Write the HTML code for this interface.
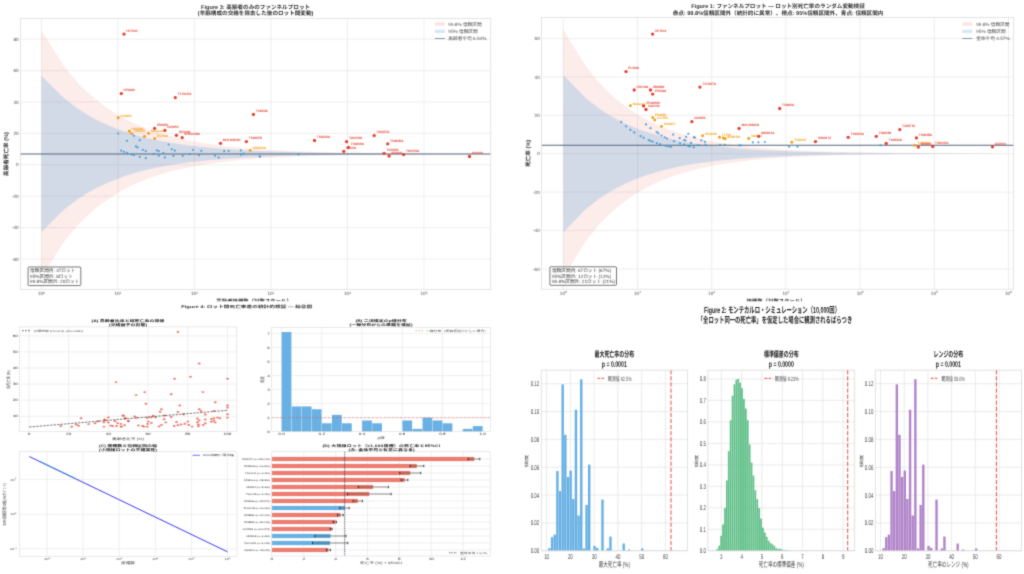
<!DOCTYPE html>
<html lang="ja"><head><meta charset="utf-8"><title>Lot mortality figures</title>
<style>
html,body{margin:0;padding:0;background:#fff;}
body{width:1024px;height:574px;overflow:hidden;}
svg{display:block;font-family:"Liberation Sans", "Noto Sans CJK JP", sans-serif;filter:url(#soft);text-rendering:geometricPrecision;}
</style></head><body>
<svg width="1024" height="574" viewBox="0 0 1024 574">
<defs><filter id="soft" x="0" y="0" width="100%" height="100%" color-interpolation-filters="sRGB"><feConvolveMatrix order="3" kernelMatrix="0.03 0.095 0.03 0.095 0.5 0.095 0.03 0.095 0.03" edgeMode="duplicate" preserveAlpha="true"/></filter></defs>
<rect width="1024" height="574" fill="#fff"/>
<rect x="20.4" y="18.4" width="470.40000000000003" height="271.3" fill="#fff"/>
<line x1="20.4" x2="490.8" y1="39.20" y2="39.20" stroke="#e6e6e6" stroke-width="0.7"/>
<line x1="20.4" x2="490.8" y1="70.60" y2="70.60" stroke="#e6e6e6" stroke-width="0.7"/>
<line x1="20.4" x2="490.8" y1="102.00" y2="102.00" stroke="#e6e6e6" stroke-width="0.7"/>
<line x1="20.4" x2="490.8" y1="133.40" y2="133.40" stroke="#e6e6e6" stroke-width="0.7"/>
<line x1="20.4" x2="490.8" y1="164.80" y2="164.80" stroke="#e6e6e6" stroke-width="0.7"/>
<line x1="20.4" x2="490.8" y1="196.20" y2="196.20" stroke="#e6e6e6" stroke-width="0.7"/>
<line x1="20.4" x2="490.8" y1="227.60" y2="227.60" stroke="#e6e6e6" stroke-width="0.7"/>
<line x1="20.4" x2="490.8" y1="259.00" y2="259.00" stroke="#e6e6e6" stroke-width="0.7"/>
<line x1="41.40" x2="41.40" y1="18.4" y2="289.7" stroke="#e6e6e6" stroke-width="0.7"/>
<line x1="117.92" x2="117.92" y1="18.4" y2="289.7" stroke="#e6e6e6" stroke-width="0.7"/>
<line x1="194.44" x2="194.44" y1="18.4" y2="289.7" stroke="#e6e6e6" stroke-width="0.7"/>
<line x1="270.96" x2="270.96" y1="18.4" y2="289.7" stroke="#e6e6e6" stroke-width="0.7"/>
<line x1="347.48" x2="347.48" y1="18.4" y2="289.7" stroke="#e6e6e6" stroke-width="0.7"/>
<line x1="424.00" x2="424.00" y1="18.4" y2="289.7" stroke="#e6e6e6" stroke-width="0.7"/>
<clipPath id="cp20"><rect x="20.4" y="18.4" width="470.40000000000003" height="271.3"/></clipPath>
<g clip-path="url(#cp20)">
<path d="M41.40,30.66 L64.43,66.76 L77.91,82.75 L87.47,92.28 L94.89,98.79 L100.94,103.59 L106.07,107.32 L110.50,110.33 L114.42,112.82 L117.92,114.93 L121.09,116.74 L123.98,118.33 L126.64,119.72 L129.10,120.97 L131.39,122.08 L133.54,123.09 L135.55,124.01 L137.45,124.86 L139.25,125.63 L140.95,126.35 L142.58,127.01 L144.12,127.63 L145.60,128.21 L147.01,128.75 L148.37,129.26 L149.67,129.73 L150.93,130.19 L152.14,130.61 L153.30,131.02 L154.43,131.40 L155.52,131.77 L156.57,132.12 L157.60,132.45 L158.59,132.77 L159.55,133.07 L160.49,133.36 L161.40,133.64 L162.29,133.91 L163.15,134.17 L163.99,134.42 L166.54,135.15 L169.09,135.86 L171.64,136.54 L174.19,137.19 L176.74,137.82 L179.29,138.42 L181.84,139.01 L184.38,139.57 L186.93,140.11 L189.48,140.63 L192.03,141.13 L194.58,141.61 L197.13,142.07 L199.68,142.51 L202.23,142.94 L204.78,143.36 L207.33,143.75 L209.88,144.13 L212.43,144.50 L214.98,144.86 L217.53,145.20 L220.08,145.52 L222.62,145.84 L225.17,146.14 L227.72,146.43 L230.27,146.72 L232.82,146.99 L235.37,147.25 L237.92,147.50 L240.47,147.74 L243.02,147.97 L245.57,148.19 L248.12,148.41 L250.67,148.62 L253.22,148.81 L255.77,149.01 L258.32,149.19 L260.87,149.37 L263.41,149.54 L265.96,149.70 L268.51,149.86 L271.06,150.01 L273.61,150.16 L276.16,150.30 L278.71,150.44 L281.26,150.57 L283.81,150.69 L286.36,150.81 L288.91,150.93 L291.46,151.04 L294.01,151.15 L296.56,151.25 L299.11,151.35 L301.65,151.45 L304.20,151.54 L306.75,151.63 L309.30,151.72 L311.85,151.80 L314.40,151.88 L316.95,151.95 L319.50,152.03 L322.05,152.10 L324.60,152.17 L327.15,152.23 L329.70,152.29 L332.25,152.35 L334.80,152.41 L337.35,152.47 L339.89,152.52 L342.44,152.57 L344.99,152.62 L347.54,152.67 L350.09,152.72 L352.64,152.76 L355.19,152.81 L357.74,152.85 L360.29,152.89 L362.84,152.93 L365.39,152.96 L367.94,153.00 L370.49,153.03 L373.04,153.07 L375.59,153.10 L378.14,153.13 L380.68,153.16 L383.23,153.18 L385.78,153.21 L388.33,153.24 L390.88,153.26 L393.43,153.29 L395.98,153.31 L398.53,153.33 L401.08,153.35 L403.63,153.37 L406.18,153.39 L408.73,153.41 L411.28,153.43 L413.83,153.45 L416.38,153.47 L418.92,153.48 L421.47,153.50 L424.02,153.51 L426.57,153.53 L429.12,153.54 L431.67,153.56 L434.22,153.57 L436.77,153.58 L439.32,153.59 L441.87,153.61 L444.42,153.62 L446.97,153.63 L449.52,153.64 L452.07,153.65 L454.62,153.66 L457.17,153.67 L459.71,153.68 L462.26,153.69 L464.81,153.69 L467.36,153.70 L469.91,153.71 L469.91,154.10 L467.36,154.11 L464.81,154.12 L462.26,154.12 L459.71,154.13 L457.17,154.14 L454.62,154.15 L452.07,154.16 L449.52,154.17 L446.97,154.18 L444.42,154.19 L441.87,154.20 L439.32,154.21 L436.77,154.23 L434.22,154.24 L431.67,154.25 L429.12,154.27 L426.57,154.28 L424.02,154.29 L421.47,154.31 L418.92,154.32 L416.38,154.34 L413.83,154.36 L411.28,154.38 L408.73,154.39 L406.18,154.41 L403.63,154.43 L401.08,154.45 L398.53,154.48 L395.98,154.50 L393.43,154.52 L390.88,154.55 L388.33,154.57 L385.78,154.60 L383.23,154.62 L380.68,154.65 L378.14,154.68 L375.59,154.71 L373.04,154.74 L370.49,154.78 L367.94,154.81 L365.39,154.85 L362.84,154.88 L360.29,154.92 L357.74,154.96 L355.19,155.00 L352.64,155.04 L350.09,155.09 L347.54,155.14 L344.99,155.18 L342.44,155.23 L339.89,155.29 L337.35,155.34 L334.80,155.40 L332.25,155.45 L329.70,155.51 L327.15,155.58 L324.60,155.64 L322.05,155.71 L319.50,155.78 L316.95,155.86 L314.40,155.93 L311.85,156.01 L309.30,156.09 L306.75,156.18 L304.20,156.27 L301.65,156.36 L299.11,156.46 L296.56,156.56 L294.01,156.66 L291.46,156.77 L288.91,156.88 L286.36,157.00 L283.81,157.12 L281.26,157.24 L278.71,157.37 L276.16,157.51 L273.61,157.65 L271.06,157.80 L268.51,157.95 L265.96,158.11 L263.41,158.27 L260.87,158.44 L258.32,158.62 L255.77,158.80 L253.22,158.99 L250.67,159.19 L248.12,159.40 L245.57,159.61 L243.02,159.84 L240.47,160.07 L237.92,160.31 L235.37,160.56 L232.82,160.82 L230.27,161.09 L227.72,161.37 L225.17,161.67 L222.62,161.97 L220.08,162.28 L217.53,162.61 L214.98,162.95 L212.43,163.31 L209.88,163.67 L207.33,164.06 L204.78,164.45 L202.23,164.87 L199.68,165.29 L197.13,165.74 L194.58,166.20 L192.03,166.68 L189.48,167.18 L186.93,167.70 L184.38,168.24 L181.84,168.80 L179.29,169.38 L176.74,169.99 L174.19,170.62 L171.64,171.27 L169.09,171.95 L166.54,172.66 L163.99,173.39 L163.15,173.64 L162.29,173.90 L161.40,174.17 L160.49,174.45 L159.55,174.74 L158.59,175.04 L157.60,175.36 L156.57,175.69 L155.52,176.04 L154.43,176.41 L153.30,176.79 L152.14,177.20 L150.93,177.62 L149.67,178.07 L148.37,178.55 L147.01,179.06 L145.60,179.60 L144.12,180.18 L142.58,180.80 L140.95,181.46 L139.25,182.18 L137.45,182.95 L135.55,183.80 L133.54,184.72 L131.39,185.73 L129.10,186.84 L126.64,188.09 L123.98,189.48 L121.09,191.06 L117.92,192.88 L114.42,194.99 L110.50,197.48 L106.07,200.49 L100.94,204.22 L94.89,209.02 L87.47,215.53 L77.91,225.06 L64.43,241.05 L41.40,277.15Z" fill="#e74c3c" fill-opacity="0.105"/>
<path d="M41.40,75.72 L64.43,98.62 L77.91,108.76 L87.47,114.81 L94.89,118.94 L100.94,121.98 L106.07,124.35 L110.50,126.26 L114.42,127.84 L117.92,129.18 L121.09,130.33 L123.98,131.33 L126.64,132.22 L129.10,133.01 L131.39,133.72 L133.54,134.36 L135.55,134.94 L137.45,135.48 L139.25,135.97 L140.95,136.42 L142.58,136.84 L144.12,137.23 L145.60,137.60 L147.01,137.94 L148.37,138.27 L149.67,138.57 L150.93,138.86 L152.14,139.13 L153.30,139.39 L154.43,139.63 L155.52,139.86 L156.57,140.08 L157.60,140.29 L158.59,140.50 L159.55,140.69 L160.49,140.87 L161.40,141.05 L162.29,141.22 L163.15,141.38 L163.99,141.54 L166.54,142.01 L169.09,142.45 L171.64,142.89 L174.19,143.30 L176.74,143.70 L179.29,144.08 L181.84,144.45 L184.38,144.81 L186.93,145.15 L189.48,145.48 L192.03,145.80 L194.58,146.10 L197.13,146.40 L199.68,146.68 L202.23,146.95 L204.78,147.21 L207.33,147.46 L209.88,147.71 L212.43,147.94 L214.98,148.16 L217.53,148.38 L220.08,148.59 L222.62,148.79 L225.17,148.98 L227.72,149.17 L230.27,149.34 L232.82,149.52 L235.37,149.68 L237.92,149.84 L240.47,149.99 L243.02,150.14 L245.57,150.28 L248.12,150.42 L250.67,150.55 L253.22,150.68 L255.77,150.80 L258.32,150.91 L260.87,151.03 L263.41,151.13 L265.96,151.24 L268.51,151.34 L271.06,151.44 L273.61,151.53 L276.16,151.62 L278.71,151.70 L281.26,151.79 L283.81,151.87 L286.36,151.94 L288.91,152.02 L291.46,152.09 L294.01,152.16 L296.56,152.22 L299.11,152.29 L301.65,152.35 L304.20,152.40 L306.75,152.46 L309.30,152.52 L311.85,152.57 L314.40,152.62 L316.95,152.67 L319.50,152.71 L322.05,152.76 L324.60,152.80 L327.15,152.84 L329.70,152.88 L332.25,152.92 L334.80,152.96 L337.35,152.99 L339.89,153.03 L342.44,153.06 L344.99,153.09 L347.54,153.12 L350.09,153.15 L352.64,153.18 L355.19,153.21 L357.74,153.23 L360.29,153.26 L362.84,153.28 L365.39,153.31 L367.94,153.33 L370.49,153.35 L373.04,153.37 L375.59,153.39 L378.14,153.41 L380.68,153.43 L383.23,153.45 L385.78,153.46 L388.33,153.48 L390.88,153.50 L393.43,153.51 L395.98,153.53 L398.53,153.54 L401.08,153.56 L403.63,153.57 L406.18,153.58 L408.73,153.59 L411.28,153.60 L413.83,153.62 L416.38,153.63 L418.92,153.64 L421.47,153.65 L424.02,153.66 L426.57,153.67 L429.12,153.68 L431.67,153.68 L434.22,153.69 L436.77,153.70 L439.32,153.71 L441.87,153.72 L444.42,153.72 L446.97,153.73 L449.52,153.74 L452.07,153.74 L454.62,153.75 L457.17,153.75 L459.71,153.76 L462.26,153.77 L464.81,153.77 L467.36,153.78 L469.91,153.78 L469.91,154.03 L467.36,154.03 L464.81,154.04 L462.26,154.04 L459.71,154.05 L457.17,154.05 L454.62,154.06 L452.07,154.07 L449.52,154.07 L446.97,154.08 L444.42,154.09 L441.87,154.09 L439.32,154.10 L436.77,154.11 L434.22,154.12 L431.67,154.12 L429.12,154.13 L426.57,154.14 L424.02,154.15 L421.47,154.16 L418.92,154.17 L416.38,154.18 L413.83,154.19 L411.28,154.20 L408.73,154.22 L406.18,154.23 L403.63,154.24 L401.08,154.25 L398.53,154.27 L395.98,154.28 L393.43,154.30 L390.88,154.31 L388.33,154.33 L385.78,154.34 L383.23,154.36 L380.68,154.38 L378.14,154.40 L375.59,154.42 L373.04,154.44 L370.49,154.46 L367.94,154.48 L365.39,154.50 L362.84,154.52 L360.29,154.55 L357.74,154.57 L355.19,154.60 L352.64,154.63 L350.09,154.66 L347.54,154.69 L344.99,154.72 L342.44,154.75 L339.89,154.78 L337.35,154.81 L334.80,154.85 L332.25,154.89 L329.70,154.93 L327.15,154.97 L324.60,155.01 L322.05,155.05 L319.50,155.10 L316.95,155.14 L314.40,155.19 L311.85,155.24 L309.30,155.29 L306.75,155.35 L304.20,155.40 L301.65,155.46 L299.11,155.52 L296.56,155.59 L294.01,155.65 L291.46,155.72 L288.91,155.79 L286.36,155.87 L283.81,155.94 L281.26,156.02 L278.71,156.10 L276.16,156.19 L273.61,156.28 L271.06,156.37 L268.51,156.47 L265.96,156.57 L263.41,156.67 L260.87,156.78 L258.32,156.89 L255.77,157.01 L253.22,157.13 L250.67,157.26 L248.12,157.39 L245.57,157.53 L243.02,157.67 L240.47,157.82 L237.92,157.97 L235.37,158.13 L232.82,158.29 L230.27,158.46 L227.72,158.64 L225.17,158.83 L222.62,159.02 L220.08,159.22 L217.53,159.43 L214.98,159.64 L212.43,159.87 L209.88,160.10 L207.33,160.34 L204.78,160.60 L202.23,160.86 L199.68,161.13 L197.13,161.41 L194.58,161.71 L192.03,162.01 L189.48,162.33 L186.93,162.66 L184.38,163.00 L181.84,163.36 L179.29,163.73 L176.74,164.11 L174.19,164.51 L171.64,164.92 L169.09,165.35 L166.54,165.80 L163.99,166.27 L163.15,166.42 L162.29,166.59 L161.40,166.76 L160.49,166.94 L159.55,167.12 L158.59,167.31 L157.60,167.51 L156.57,167.73 L155.52,167.95 L154.43,168.18 L153.30,168.42 L152.14,168.68 L150.93,168.95 L149.67,169.24 L148.37,169.54 L147.01,169.86 L145.60,170.21 L144.12,170.57 L142.58,170.97 L140.95,171.39 L139.25,171.84 L137.45,172.33 L135.55,172.87 L133.54,173.45 L131.39,174.09 L129.10,174.80 L126.64,175.59 L123.98,176.47 L121.09,177.48 L117.92,178.63 L114.42,179.97 L110.50,181.55 L106.07,183.46 L100.94,185.82 L94.89,188.87 L87.47,193.00 L77.91,199.04 L64.43,209.19 L41.40,232.09Z" fill="#3498db" fill-opacity="0.2"/>
</g>
<line x1="20.4" x2="490.8" y1="154.05" y2="154.05" stroke="#53667a" stroke-width="1.05"/>
<circle cx="118.2" cy="133.6" r="1.12" fill="#3498db" fill-opacity="0.85"/>
<circle cx="127.0" cy="140.8" r="1.12" fill="#3498db" fill-opacity="0.85"/>
<circle cx="133.9" cy="135.8" r="1.12" fill="#3498db" fill-opacity="0.85"/>
<circle cx="139.7" cy="140.2" r="1.12" fill="#3498db" fill-opacity="0.85"/>
<circle cx="135.9" cy="146.4" r="1.12" fill="#3498db" fill-opacity="0.85"/>
<circle cx="137.6" cy="147.4" r="1.12" fill="#3498db" fill-opacity="0.85"/>
<circle cx="121.2" cy="150.7" r="1.12" fill="#3498db" fill-opacity="0.85"/>
<circle cx="124.0" cy="151.8" r="1.12" fill="#3498db" fill-opacity="0.85"/>
<circle cx="127.0" cy="152.9" r="1.12" fill="#3498db" fill-opacity="0.85"/>
<circle cx="131.7" cy="154.4" r="1.12" fill="#3498db" fill-opacity="0.85"/>
<circle cx="133.9" cy="155.1" r="1.12" fill="#3498db" fill-opacity="0.85"/>
<circle cx="142.8" cy="149.9" r="1.12" fill="#3498db" fill-opacity="0.85"/>
<circle cx="145.8" cy="151.1" r="1.12" fill="#3498db" fill-opacity="0.85"/>
<circle cx="139.7" cy="156.8" r="1.12" fill="#3498db" fill-opacity="0.85"/>
<circle cx="145.8" cy="158.2" r="1.12" fill="#3498db" fill-opacity="0.85"/>
<circle cx="153.8" cy="154.1" r="1.12" fill="#3498db" fill-opacity="0.85"/>
<circle cx="156.8" cy="150.4" r="1.12" fill="#3498db" fill-opacity="0.85"/>
<circle cx="158.8" cy="151.1" r="1.12" fill="#3498db" fill-opacity="0.85"/>
<circle cx="158.8" cy="155.7" r="1.12" fill="#3498db" fill-opacity="0.85"/>
<circle cx="163.4" cy="153.0" r="1.12" fill="#3498db" fill-opacity="0.85"/>
<circle cx="164.9" cy="157.4" r="1.12" fill="#3498db" fill-opacity="0.85"/>
<circle cx="168.7" cy="144.5" r="1.12" fill="#3498db" fill-opacity="0.85"/>
<circle cx="171.7" cy="149.3" r="1.12" fill="#3498db" fill-opacity="0.85"/>
<circle cx="174.8" cy="150.7" r="1.12" fill="#3498db" fill-opacity="0.85"/>
<circle cx="173.4" cy="156.0" r="1.12" fill="#3498db" fill-opacity="0.85"/>
<circle cx="182.8" cy="155.8" r="1.12" fill="#3498db" fill-opacity="0.85"/>
<circle cx="189.7" cy="154.1" r="1.12" fill="#3498db" fill-opacity="0.85"/>
<circle cx="193.0" cy="150.0" r="1.12" fill="#3498db" fill-opacity="0.85"/>
<circle cx="199.0" cy="155.2" r="1.12" fill="#3498db" fill-opacity="0.85"/>
<circle cx="201.3" cy="150.8" r="1.12" fill="#3498db" fill-opacity="0.85"/>
<circle cx="215.0" cy="155.7" r="1.12" fill="#3498db" fill-opacity="0.85"/>
<circle cx="218.7" cy="157.6" r="1.12" fill="#3498db" fill-opacity="0.85"/>
<circle cx="224.2" cy="151.1" r="1.12" fill="#3498db" fill-opacity="0.85"/>
<circle cx="228.6" cy="151.1" r="1.12" fill="#3498db" fill-opacity="0.85"/>
<circle cx="240.9" cy="150.4" r="1.12" fill="#3498db" fill-opacity="0.85"/>
<circle cx="240.9" cy="154.7" r="1.12" fill="#3498db" fill-opacity="0.85"/>
<circle cx="243.8" cy="153.6" r="1.12" fill="#3498db" fill-opacity="0.85"/>
<circle cx="259.7" cy="156.5" r="1.12" fill="#3498db" fill-opacity="0.85"/>
<circle cx="260.0" cy="156.6" r="1.12" fill="#3498db" fill-opacity="0.85"/>
<circle cx="298.5" cy="154.3" r="1.12" fill="#3498db" fill-opacity="0.85"/>
<circle cx="118.2" cy="117.7" r="1.45" fill="#f39c12"/>
<text transform="translate(120.50,116.50)" font-size="3.2" fill="#f5a623" text-anchor="start" font-weight="normal" stroke="#f5a623" stroke-width="0.12">CJ9960</text>
<circle cx="129.3" cy="131.2" r="1.45" fill="#f39c12"/>
<text transform="translate(131.60,130.00)" font-size="3.2" fill="#f5a623" text-anchor="start" font-weight="normal" stroke="#f5a623" stroke-width="0.12">HH0929</text>
<circle cx="131.7" cy="133.6" r="1.45" fill="#f39c12"/>
<text transform="translate(134.00,132.40)" font-size="3.2" fill="#f5a623" text-anchor="start" font-weight="normal" stroke="#f5a623" stroke-width="0.12">T60054</text>
<circle cx="144.4" cy="136.5" r="1.45" fill="#f39c12"/>
<circle cx="148.6" cy="133.4" r="1.45" fill="#f39c12"/>
<text transform="translate(150.90,132.20)" font-size="3.2" fill="#f5a623" text-anchor="start" font-weight="normal" stroke="#f5a623" stroke-width="0.12">Novavax</text>
<circle cx="154.6" cy="138.6" r="1.45" fill="#f39c12"/>
<text transform="translate(156.90,137.40)" font-size="3.2" fill="#f5a623" text-anchor="start" font-weight="normal" stroke="#f5a623" stroke-width="0.12">FX7540</text>
<circle cx="250.1" cy="150.4" r="1.45" fill="#f39c12"/>
<text transform="translate(252.40,149.20)" font-size="3.2" fill="#f5a623" text-anchor="start" font-weight="normal" stroke="#f5a623" stroke-width="0.12">VPA003A</text>
<circle cx="124.0" cy="34.1" r="1.65" fill="#e53e2f"/>
<text transform="translate(126.30,31.80)" font-size="3.2" fill="#e74c3c" text-anchor="start" font-weight="normal" stroke="#e74c3c" stroke-width="0.12">HE7631</text>
<circle cx="121.3" cy="93.6" r="1.65" fill="#e53e2f"/>
<text transform="translate(123.60,91.30)" font-size="3.2" fill="#e74c3c" text-anchor="start" font-weight="normal" stroke="#e74c3c" stroke-width="0.12">HE9930</text>
<circle cx="175.3" cy="97.6" r="1.65" fill="#e53e2f"/>
<text transform="translate(177.60,95.30)" font-size="3.2" fill="#e74c3c" text-anchor="start" font-weight="normal" stroke="#e74c3c" stroke-width="0.12">T1700ITA</text>
<circle cx="154.6" cy="128.4" r="1.65" fill="#e53e2f"/>
<text transform="translate(156.90,126.10)" font-size="3.2" fill="#e74c3c" text-anchor="start" font-weight="normal" stroke="#e74c3c" stroke-width="0.12">FB0456</text>
<circle cx="164.9" cy="130.4" r="1.65" fill="#e53e2f"/>
<text transform="translate(167.20,128.10)" font-size="3.2" fill="#e74c3c" text-anchor="start" font-weight="normal" stroke="#e74c3c" stroke-width="0.12">G21852</text>
<circle cx="176.4" cy="135.3" r="1.65" fill="#e53e2f"/>
<text transform="translate(178.70,133.00)" font-size="3.2" fill="#e74c3c" text-anchor="start" font-weight="normal" stroke="#e74c3c" stroke-width="0.12">HH1228</text>
<circle cx="182.2" cy="137.6" r="1.65" fill="#e53e2f"/>
<text transform="translate(184.50,135.30)" font-size="3.2" fill="#e74c3c" text-anchor="start" font-weight="normal" stroke="#e74c3c" stroke-width="0.12">9H9433BA</text>
<circle cx="220.5" cy="143.3" r="1.65" fill="#e53e2f"/>
<text transform="translate(222.80,141.00)" font-size="3.2" fill="#e74c3c" text-anchor="start" font-weight="normal" stroke="#e74c3c" stroke-width="0.12">MOL40B001</text>
<circle cx="246.4" cy="141.6" r="1.65" fill="#e53e2f"/>
<text transform="translate(248.70,139.30)" font-size="3.2" fill="#e74c3c" text-anchor="start" font-weight="normal" stroke="#e74c3c" stroke-width="0.12">T1990EB</text>
<circle cx="253.4" cy="114.4" r="1.65" fill="#e53e2f"/>
<text transform="translate(255.70,112.10)" font-size="3.2" fill="#e74c3c" text-anchor="start" font-weight="normal" stroke="#e74c3c" stroke-width="0.12">T1993IA</text>
<circle cx="314.5" cy="140.5" r="1.65" fill="#e53e2f"/>
<text transform="translate(316.80,138.20)" font-size="3.2" fill="#e74c3c" text-anchor="start" font-weight="normal" stroke="#e74c3c" stroke-width="0.12">T1993SA</text>
<circle cx="346.6" cy="141.7" r="1.65" fill="#e53e2f"/>
<text transform="translate(348.90,139.40)" font-size="3.2" fill="#e74c3c" text-anchor="start" font-weight="normal" stroke="#e74c3c" stroke-width="0.12">T2001SA</text>
<circle cx="348.4" cy="147.5" r="1.65" fill="#e53e2f"/>
<text transform="translate(350.70,145.20)" font-size="3.2" fill="#e74c3c" text-anchor="start" font-weight="normal" stroke="#e74c3c" stroke-width="0.12">T1990SA</text>
<circle cx="343.8" cy="151.3" r="1.65" fill="#e53e2f"/>
<text transform="translate(346.10,149.00)" font-size="3.2" fill="#e74c3c" text-anchor="start" font-weight="normal" stroke="#e74c3c" stroke-width="0.12">9H02C</text>
<circle cx="374.2" cy="135.6" r="1.65" fill="#e53e2f"/>
<text transform="translate(376.50,133.30)" font-size="3.2" fill="#e74c3c" text-anchor="start" font-weight="normal" stroke="#e74c3c" stroke-width="0.12">T2005TA</text>
<circle cx="387.7" cy="143.8" r="1.65" fill="#e53e2f"/>
<text transform="translate(390.00,141.50)" font-size="3.2" fill="#e74c3c" text-anchor="start" font-weight="normal" stroke="#e74c3c" stroke-width="0.12">T1993BA</text>
<circle cx="384.1" cy="153.3" r="1.65" fill="#e53e2f"/>
<text transform="translate(386.40,151.00)" font-size="3.2" fill="#e74c3c" text-anchor="start" font-weight="normal" stroke="#e74c3c" stroke-width="0.12">T2001BL</text>
<circle cx="389.1" cy="156.0" r="1.65" fill="#e53e2f"/>
<text transform="translate(391.40,153.70)" font-size="3.2" fill="#e74c3c" text-anchor="start" font-weight="normal" stroke="#e74c3c" stroke-width="0.12">9D0801</text>
<circle cx="403.6" cy="154.6" r="1.65" fill="#e53e2f"/>
<text transform="translate(405.90,152.30)" font-size="3.2" fill="#e74c3c" text-anchor="start" font-weight="normal" stroke="#e74c3c" stroke-width="0.12">T2001SA</text>
<circle cx="469.5" cy="156.5" r="1.65" fill="#e53e2f"/>
<text transform="translate(471.80,154.20)" font-size="3.2" fill="#e74c3c" text-anchor="start" font-weight="normal" stroke="#e74c3c" stroke-width="0.12">A02223</text>
<rect x="20.4" y="18.4" width="470.40000000000003" height="271.3" fill="none" stroke="#d9d9d9" stroke-width="0.7"/>
<text transform="translate(18.60,40.80)" font-size="4.6" fill="#555" text-anchor="end" font-weight="normal" >80</text>
<text transform="translate(18.60,72.20)" font-size="4.6" fill="#555" text-anchor="end" font-weight="normal" >60</text>
<text transform="translate(18.60,103.60)" font-size="4.6" fill="#555" text-anchor="end" font-weight="normal" >40</text>
<text transform="translate(18.60,135.00)" font-size="4.6" fill="#555" text-anchor="end" font-weight="normal" >20</text>
<text transform="translate(18.60,166.40)" font-size="4.6" fill="#555" text-anchor="end" font-weight="normal" >0</text>
<text transform="translate(18.60,197.80)" font-size="4.6" fill="#555" text-anchor="end" font-weight="normal" >-20</text>
<text transform="translate(18.60,229.20)" font-size="4.6" fill="#555" text-anchor="end" font-weight="normal" >-40</text>
<text transform="translate(18.60,260.60)" font-size="4.6" fill="#555" text-anchor="end" font-weight="normal" >-60</text>
<text transform="translate(41.40,295.30)" font-size="4.6" fill="#555" text-anchor="middle">10<tspan font-size="3.22" dy="-1.75">0</tspan></text>
<text transform="translate(117.92,295.30)" font-size="4.6" fill="#555" text-anchor="middle">10<tspan font-size="3.22" dy="-1.75">1</tspan></text>
<text transform="translate(194.44,295.30)" font-size="4.6" fill="#555" text-anchor="middle">10<tspan font-size="3.22" dy="-1.75">2</tspan></text>
<text transform="translate(270.96,295.30)" font-size="4.6" fill="#555" text-anchor="middle">10<tspan font-size="3.22" dy="-1.75">3</tspan></text>
<text transform="translate(347.48,295.30)" font-size="4.6" fill="#555" text-anchor="middle">10<tspan font-size="3.22" dy="-1.75">4</tspan></text>
<text transform="translate(424.00,295.30)" font-size="4.6" fill="#555" text-anchor="middle">10<tspan font-size="3.22" dy="-1.75">5</tspan></text>
<text transform="translate(255.60,8.90)" font-size="5.6" fill="#333" text-anchor="middle" font-weight="bold" >Figure 3: 高齢者のみのファンネルプロット</text>
<text transform="translate(255.60,15.20)" font-size="5.6" fill="#333" text-anchor="middle" font-weight="bold" >(年齢構成の交絡を除去した後のロット間変動)</text>
<text transform="translate(8.40,154.05) rotate(-90)" font-size="5.6" fill="#333" text-anchor="middle" font-weight="bold" >高齢者死亡率 (%)</text>
<clipPath id="cx20"><rect x="20.4" y="290" width="470.40000000000003" height="11.2"/></clipPath>
<g clip-path="url(#cx20)">
<text transform="translate(254.10,303.10)" font-size="5.4" fill="#333" text-anchor="middle" font-weight="bold" >高齢者接種数（対数スケール）</text>
</g>
<rect x="434.9" y="22.4" width="10" height="3.3" fill="#fce5e2"/>
<rect x="434.9" y="29.7" width="10" height="3.3" fill="#d6e8f6"/>
<line x1="434.9" x2="444.9" y1="38.5" y2="38.5" stroke="#7a8a9a" stroke-width="0.9"/>
<text transform="translate(448.30,25.80)" font-size="4.7" fill="#555" text-anchor="start" font-weight="normal" >99.8% 信頼区間</text>
<text transform="translate(448.30,33.05)" font-size="4.7" fill="#555" text-anchor="start" font-weight="normal" >95% 信頼区間</text>
<text transform="translate(448.30,40.30)" font-size="4.7" fill="#555" text-anchor="start" font-weight="normal" >高齢者平均 6.94%</text>
<rect x="28.1" y="267.0" width="52.699999999999996" height="18.600000000000023" rx="1" fill="#fff" stroke="#4a4a4a" stroke-width="0.75"/>
<text transform="translate(30.10,272.40)" font-size="4.7" fill="#444" text-anchor="start" font-weight="normal" >信頼区間内: 47ロット</text>
<text transform="translate(30.10,277.85)" font-size="4.7" fill="#444" text-anchor="start" font-weight="normal" >95%区間外: 8ロット</text>
<text transform="translate(30.10,283.30)" font-size="4.7" fill="#444" text-anchor="start" font-weight="normal" >99.8%区間外: 20ロット</text>
<rect x="541.5" y="17.4" width="472.20000000000005" height="271.8" fill="#fff"/>
<line x1="541.5" x2="1013.7" y1="38.50" y2="38.50" stroke="#e6e6e6" stroke-width="0.7"/>
<line x1="541.5" x2="1013.7" y1="76.90" y2="76.90" stroke="#e6e6e6" stroke-width="0.7"/>
<line x1="541.5" x2="1013.7" y1="115.30" y2="115.30" stroke="#e6e6e6" stroke-width="0.7"/>
<line x1="541.5" x2="1013.7" y1="153.70" y2="153.70" stroke="#e6e6e6" stroke-width="0.7"/>
<line x1="541.5" x2="1013.7" y1="192.10" y2="192.10" stroke="#e6e6e6" stroke-width="0.7"/>
<line x1="541.5" x2="1013.7" y1="230.50" y2="230.50" stroke="#e6e6e6" stroke-width="0.7"/>
<line x1="541.5" x2="1013.7" y1="268.90" y2="268.90" stroke="#e6e6e6" stroke-width="0.7"/>
<line x1="563.30" x2="563.30" y1="17.4" y2="289.2" stroke="#e6e6e6" stroke-width="0.7"/>
<line x1="637.50" x2="637.50" y1="17.4" y2="289.2" stroke="#e6e6e6" stroke-width="0.7"/>
<line x1="711.70" x2="711.70" y1="17.4" y2="289.2" stroke="#e6e6e6" stroke-width="0.7"/>
<line x1="785.90" x2="785.90" y1="17.4" y2="289.2" stroke="#e6e6e6" stroke-width="0.7"/>
<line x1="860.10" x2="860.10" y1="17.4" y2="289.2" stroke="#e6e6e6" stroke-width="0.7"/>
<line x1="934.30" x2="934.30" y1="17.4" y2="289.2" stroke="#e6e6e6" stroke-width="0.7"/>
<line x1="1008.50" x2="1008.50" y1="17.4" y2="289.2" stroke="#e6e6e6" stroke-width="0.7"/>
<clipPath id="cp541"><rect x="541.5" y="17.4" width="472.20000000000005" height="271.8"/></clipPath>
<g clip-path="url(#cp541)">
<path d="M563.30,29.76 L585.64,66.04 L598.70,82.10 L607.97,91.68 L615.16,98.22 L621.04,103.05 L626.01,106.80 L630.31,109.82 L634.10,112.32 L637.50,114.44 L640.57,116.26 L643.38,117.85 L645.95,119.26 L648.34,120.51 L650.57,121.63 L652.65,122.64 L654.60,123.57 L656.44,124.41 L658.18,125.19 L659.84,125.91 L661.41,126.58 L662.91,127.20 L664.34,127.78 L665.71,128.33 L667.03,128.84 L668.29,129.32 L669.51,129.77 L670.68,130.20 L671.81,130.61 L672.90,130.99 L673.96,131.36 L674.98,131.71 L675.97,132.05 L676.94,132.37 L677.87,132.67 L678.78,132.96 L679.66,133.24 L680.52,133.51 L681.36,133.77 L682.17,134.02 L684.76,134.79 L687.35,135.53 L689.93,136.24 L692.52,136.93 L695.11,137.58 L697.69,138.21 L700.28,138.82 L702.86,139.40 L705.45,139.96 L708.04,140.50 L710.62,141.01 L713.21,141.51 L715.80,141.98 L718.38,142.44 L720.97,142.88 L723.56,143.30 L726.14,143.71 L728.73,144.10 L731.32,144.47 L733.90,144.83 L736.49,145.17 L739.07,145.51 L741.66,145.82 L744.25,146.13 L746.83,146.42 L749.42,146.71 L752.01,146.98 L754.59,147.24 L757.18,147.49 L759.77,147.73 L762.35,147.96 L764.94,148.18 L767.53,148.40 L770.11,148.60 L772.70,148.80 L775.29,148.99 L777.87,149.17 L780.46,149.34 L783.04,149.51 L785.63,149.67 L788.22,149.83 L790.80,149.97 L793.39,150.12 L795.98,150.25 L798.56,150.39 L801.15,150.51 L803.74,150.63 L806.32,150.75 L808.91,150.86 L811.50,150.97 L814.08,151.07 L816.67,151.17 L819.25,151.27 L821.84,151.36 L824.43,151.45 L827.01,151.53 L829.60,151.62 L832.19,151.69 L834.77,151.77 L837.36,151.84 L839.95,151.91 L842.53,151.98 L845.12,152.04 L847.71,152.10 L850.29,152.16 L852.88,152.22 L855.47,152.27 L858.05,152.33 L860.64,152.38 L863.22,152.42 L865.81,152.47 L868.40,152.52 L870.98,152.56 L873.57,152.60 L876.16,152.64 L878.74,152.68 L881.33,152.71 L883.92,152.75 L886.50,152.78 L889.09,152.81 L891.68,152.85 L894.26,152.88 L896.85,152.90 L899.43,152.93 L902.02,152.96 L904.61,152.98 L907.19,153.01 L909.78,153.03 L912.37,153.05 L914.95,153.08 L917.54,153.10 L920.13,153.12 L922.71,153.14 L925.30,153.15 L927.89,153.17 L930.47,153.19 L933.06,153.20 L935.65,153.22 L938.23,153.24 L940.82,153.25 L943.40,153.26 L945.99,153.28 L948.58,153.29 L951.16,153.30 L953.75,153.31 L956.34,153.33 L958.92,153.34 L961.51,153.35 L964.10,153.36 L966.68,153.37 L969.27,153.38 L971.86,153.39 L974.44,153.39 L977.03,153.40 L979.61,153.41 L982.20,153.42 L984.79,153.43 L987.37,153.43 L989.96,153.44 L992.55,153.45 L992.55,153.76 L989.96,153.77 L987.37,153.78 L984.79,153.78 L982.20,153.79 L979.61,153.80 L977.03,153.81 L974.44,153.81 L971.86,153.82 L969.27,153.83 L966.68,153.84 L964.10,153.85 L961.51,153.86 L958.92,153.87 L956.34,153.88 L953.75,153.89 L951.16,153.91 L948.58,153.92 L945.99,153.93 L943.40,153.94 L940.82,153.96 L938.23,153.97 L935.65,153.99 L933.06,154.00 L930.47,154.02 L927.89,154.04 L925.30,154.05 L922.71,154.07 L920.13,154.09 L917.54,154.11 L914.95,154.13 L912.37,154.15 L909.78,154.18 L907.19,154.20 L904.61,154.22 L902.02,154.25 L899.43,154.28 L896.85,154.30 L894.26,154.33 L891.68,154.36 L889.09,154.39 L886.50,154.43 L883.92,154.46 L881.33,154.49 L878.74,154.53 L876.16,154.57 L873.57,154.61 L870.98,154.65 L868.40,154.69 L865.81,154.74 L863.22,154.78 L860.64,154.83 L858.05,154.88 L855.47,154.93 L852.88,154.99 L850.29,155.05 L847.71,155.10 L845.12,155.17 L842.53,155.23 L839.95,155.30 L837.36,155.37 L834.77,155.44 L832.19,155.51 L829.60,155.59 L827.01,155.67 L824.43,155.76 L821.84,155.85 L819.25,155.94 L816.67,156.03 L814.08,156.13 L811.50,156.24 L808.91,156.34 L806.32,156.46 L803.74,156.57 L801.15,156.70 L798.56,156.82 L795.98,156.95 L793.39,157.09 L790.80,157.23 L788.22,157.38 L785.63,157.54 L783.04,157.70 L780.46,157.87 L777.87,158.04 L775.29,158.22 L772.70,158.41 L770.11,158.61 L767.53,158.81 L764.94,159.03 L762.35,159.25 L759.77,159.48 L757.18,159.72 L754.59,159.97 L752.01,160.23 L749.42,160.50 L746.83,160.78 L744.25,161.08 L741.66,161.38 L739.07,161.70 L736.49,162.03 L733.90,162.38 L731.32,162.74 L728.73,163.11 L726.14,163.50 L723.56,163.91 L720.97,164.33 L718.38,164.77 L715.80,165.23 L713.21,165.70 L710.62,166.20 L708.04,166.71 L705.45,167.25 L702.86,167.81 L700.28,168.39 L697.69,168.99 L695.11,169.62 L692.52,170.28 L689.93,170.96 L687.35,171.67 L684.76,172.41 L682.17,173.18 L681.36,173.43 L680.52,173.69 L679.66,173.96 L678.78,174.24 L677.87,174.54 L676.94,174.84 L675.97,175.16 L674.98,175.50 L673.96,175.85 L672.90,176.21 L671.81,176.60 L670.68,177.01 L669.51,177.44 L668.29,177.89 L667.03,178.37 L665.71,178.88 L664.34,179.43 L662.91,180.01 L661.41,180.63 L659.84,181.30 L658.18,182.01 L656.44,182.79 L654.60,183.64 L652.65,184.56 L650.57,185.58 L648.34,186.70 L645.95,187.95 L643.38,189.35 L640.57,190.94 L637.50,192.77 L634.10,194.88 L630.31,197.39 L626.01,200.41 L621.04,204.16 L615.16,208.99 L607.97,215.52 L598.70,225.10 L585.64,241.17 L563.30,277.44Z" fill="#e74c3c" fill-opacity="0.105"/>
<path d="M563.30,75.02 L585.64,98.04 L598.70,108.23 L607.97,114.31 L615.16,118.46 L621.04,121.52 L626.01,123.90 L630.31,125.82 L634.10,127.41 L637.50,128.75 L640.57,129.91 L643.38,130.92 L645.95,131.81 L648.34,132.60 L650.57,133.31 L652.65,133.96 L654.60,134.54 L656.44,135.08 L658.18,135.58 L659.84,136.03 L661.41,136.46 L662.91,136.85 L664.34,137.22 L665.71,137.56 L667.03,137.89 L668.29,138.19 L669.51,138.48 L670.68,138.75 L671.81,139.01 L672.90,139.26 L673.96,139.49 L674.98,139.71 L675.97,139.92 L676.94,140.13 L677.87,140.32 L678.78,140.51 L679.66,140.68 L680.52,140.86 L681.36,141.02 L682.17,141.18 L684.76,141.67 L687.35,142.14 L689.93,142.59 L692.52,143.02 L695.11,143.44 L697.69,143.84 L700.28,144.22 L702.86,144.59 L705.45,144.95 L708.04,145.29 L710.62,145.61 L713.21,145.93 L715.80,146.23 L718.38,146.52 L720.97,146.80 L723.56,147.07 L726.14,147.32 L728.73,147.57 L731.32,147.81 L733.90,148.04 L736.49,148.25 L739.07,148.47 L741.66,148.67 L744.25,148.86 L746.83,149.05 L749.42,149.23 L752.01,149.40 L754.59,149.56 L757.18,149.72 L759.77,149.88 L762.35,150.02 L764.94,150.16 L767.53,150.30 L770.11,150.43 L772.70,150.55 L775.29,150.67 L777.87,150.79 L780.46,150.90 L783.04,151.01 L785.63,151.11 L788.22,151.21 L790.80,151.30 L793.39,151.39 L795.98,151.48 L798.56,151.56 L801.15,151.64 L803.74,151.72 L806.32,151.79 L808.91,151.87 L811.50,151.93 L814.08,152.00 L816.67,152.06 L819.25,152.12 L821.84,152.18 L824.43,152.24 L827.01,152.29 L829.60,152.34 L832.19,152.39 L834.77,152.44 L837.36,152.49 L839.95,152.53 L842.53,152.57 L845.12,152.61 L847.71,152.65 L850.29,152.69 L852.88,152.72 L855.47,152.76 L858.05,152.79 L860.64,152.82 L863.22,152.86 L865.81,152.88 L868.40,152.91 L870.98,152.94 L873.57,152.97 L876.16,152.99 L878.74,153.02 L881.33,153.04 L883.92,153.06 L886.50,153.08 L889.09,153.10 L891.68,153.12 L894.26,153.14 L896.85,153.16 L899.43,153.18 L902.02,153.19 L904.61,153.21 L907.19,153.23 L909.78,153.24 L912.37,153.25 L914.95,153.27 L917.54,153.28 L920.13,153.29 L922.71,153.31 L925.30,153.32 L927.89,153.33 L930.47,153.34 L933.06,153.35 L935.65,153.36 L938.23,153.37 L940.82,153.38 L943.40,153.39 L945.99,153.40 L948.58,153.40 L951.16,153.41 L953.75,153.42 L956.34,153.43 L958.92,153.43 L961.51,153.44 L964.10,153.45 L966.68,153.45 L969.27,153.46 L971.86,153.47 L974.44,153.47 L977.03,153.48 L979.61,153.48 L982.20,153.49 L984.79,153.49 L987.37,153.49 L989.96,153.50 L992.55,153.50 L992.55,153.70 L989.96,153.71 L987.37,153.71 L984.79,153.72 L982.20,153.72 L979.61,153.73 L977.03,153.73 L974.44,153.74 L971.86,153.74 L969.27,153.75 L966.68,153.75 L964.10,153.76 L961.51,153.77 L958.92,153.77 L956.34,153.78 L953.75,153.79 L951.16,153.80 L948.58,153.80 L945.99,153.81 L943.40,153.82 L940.82,153.83 L938.23,153.84 L935.65,153.85 L933.06,153.86 L930.47,153.87 L927.89,153.88 L925.30,153.89 L922.71,153.90 L920.13,153.91 L917.54,153.93 L914.95,153.94 L912.37,153.95 L909.78,153.97 L907.19,153.98 L904.61,154.00 L902.02,154.01 L899.43,154.03 L896.85,154.05 L894.26,154.07 L891.68,154.09 L889.09,154.11 L886.50,154.13 L883.92,154.15 L881.33,154.17 L878.74,154.19 L876.16,154.22 L873.57,154.24 L870.98,154.27 L868.40,154.29 L865.81,154.32 L863.22,154.35 L860.64,154.38 L858.05,154.42 L855.47,154.45 L852.88,154.48 L850.29,154.52 L847.71,154.56 L845.12,154.60 L842.53,154.64 L839.95,154.68 L837.36,154.72 L834.77,154.77 L832.19,154.82 L829.60,154.87 L827.01,154.92 L824.43,154.97 L821.84,155.03 L819.25,155.09 L816.67,155.15 L814.08,155.21 L811.50,155.27 L808.91,155.34 L806.32,155.41 L803.74,155.49 L801.15,155.57 L798.56,155.65 L795.98,155.73 L793.39,155.82 L790.80,155.91 L788.22,156.00 L785.63,156.10 L783.04,156.20 L780.46,156.31 L777.87,156.42 L775.29,156.53 L772.70,156.65 L770.11,156.78 L767.53,156.91 L764.94,157.04 L762.35,157.19 L759.77,157.33 L757.18,157.48 L754.59,157.64 L752.01,157.81 L749.42,157.98 L746.83,158.16 L744.25,158.35 L741.66,158.54 L739.07,158.74 L736.49,158.95 L733.90,159.17 L731.32,159.40 L728.73,159.64 L726.14,159.88 L723.56,160.14 L720.97,160.41 L718.38,160.69 L715.80,160.98 L713.21,161.28 L710.62,161.59 L708.04,161.92 L705.45,162.26 L702.86,162.62 L700.28,162.99 L697.69,163.37 L695.11,163.77 L692.52,164.19 L689.93,164.62 L687.35,165.07 L684.76,165.54 L682.17,166.03 L681.36,166.19 L680.52,166.35 L679.66,166.52 L678.78,166.70 L677.87,166.89 L676.94,167.08 L675.97,167.28 L674.98,167.50 L673.96,167.72 L672.90,167.95 L671.81,168.20 L670.68,168.46 L669.51,168.73 L668.29,169.02 L667.03,169.32 L665.71,169.65 L664.34,169.99 L662.91,170.36 L661.41,170.75 L659.84,171.18 L658.18,171.63 L656.44,172.13 L654.60,172.66 L652.65,173.25 L650.57,173.89 L648.34,174.61 L645.95,175.40 L643.38,176.29 L640.57,177.30 L637.50,178.45 L634.10,179.80 L630.31,181.39 L626.01,183.31 L621.04,185.69 L615.16,188.75 L607.97,192.90 L598.70,198.98 L585.64,209.17 L563.30,232.19Z" fill="#3498db" fill-opacity="0.2"/>
</g>
<line x1="541.5" x2="1013.7" y1="145.19" y2="145.19" stroke="#53667a" stroke-width="1.05"/>
<circle cx="621.2" cy="121.9" r="1.12" fill="#3498db" fill-opacity="0.85"/>
<circle cx="626.0" cy="126.3" r="1.12" fill="#3498db" fill-opacity="0.85"/>
<circle cx="630.4" cy="129.9" r="1.12" fill="#3498db" fill-opacity="0.85"/>
<circle cx="634.2" cy="132.4" r="1.12" fill="#3498db" fill-opacity="0.85"/>
<circle cx="640.6" cy="136.2" r="1.12" fill="#3498db" fill-opacity="0.85"/>
<circle cx="643.6" cy="137.9" r="1.12" fill="#3498db" fill-opacity="0.85"/>
<circle cx="646.0" cy="124.4" r="1.12" fill="#3498db" fill-opacity="0.85"/>
<circle cx="648.6" cy="140.1" r="1.12" fill="#3498db" fill-opacity="0.85"/>
<circle cx="650.5" cy="140.9" r="1.12" fill="#3498db" fill-opacity="0.85"/>
<circle cx="650.5" cy="128.2" r="1.12" fill="#3498db" fill-opacity="0.85"/>
<circle cx="652.7" cy="141.6" r="1.12" fill="#3498db" fill-opacity="0.85"/>
<circle cx="656.8" cy="143.2" r="1.12" fill="#3498db" fill-opacity="0.85"/>
<circle cx="656.8" cy="132.2" r="1.12" fill="#3498db" fill-opacity="0.85"/>
<circle cx="658.4" cy="133.6" r="1.12" fill="#3498db" fill-opacity="0.85"/>
<circle cx="660.1" cy="144.2" r="1.12" fill="#3498db" fill-opacity="0.85"/>
<circle cx="661.5" cy="135.5" r="1.12" fill="#3498db" fill-opacity="0.85"/>
<circle cx="664.8" cy="137.3" r="1.12" fill="#3498db" fill-opacity="0.85"/>
<circle cx="667.1" cy="138.5" r="1.12" fill="#3498db" fill-opacity="0.85"/>
<circle cx="665.9" cy="145.9" r="1.12" fill="#3498db" fill-opacity="0.85"/>
<circle cx="668.5" cy="146.5" r="1.12" fill="#3498db" fill-opacity="0.85"/>
<circle cx="670.9" cy="147.0" r="1.12" fill="#3498db" fill-opacity="0.85"/>
<circle cx="673.1" cy="134.6" r="1.12" fill="#3498db" fill-opacity="0.85"/>
<circle cx="674.0" cy="141.2" r="1.12" fill="#3498db" fill-opacity="0.85"/>
<circle cx="679.7" cy="138.2" r="1.12" fill="#3498db" fill-opacity="0.85"/>
<circle cx="680.0" cy="143.4" r="1.12" fill="#3498db" fill-opacity="0.85"/>
<circle cx="684.1" cy="140.1" r="1.12" fill="#3498db" fill-opacity="0.85"/>
<circle cx="685.5" cy="140.5" r="1.12" fill="#3498db" fill-opacity="0.85"/>
<circle cx="684.1" cy="144.5" r="1.12" fill="#3498db" fill-opacity="0.85"/>
<circle cx="686.1" cy="136.8" r="1.12" fill="#3498db" fill-opacity="0.85"/>
<circle cx="688.3" cy="133.8" r="1.12" fill="#3498db" fill-opacity="0.85"/>
<circle cx="688.3" cy="145.9" r="1.12" fill="#3498db" fill-opacity="0.85"/>
<circle cx="689.7" cy="146.4" r="1.12" fill="#3498db" fill-opacity="0.85"/>
<circle cx="691.0" cy="142.9" r="1.12" fill="#3498db" fill-opacity="0.85"/>
<circle cx="693.8" cy="147.3" r="1.12" fill="#3498db" fill-opacity="0.85"/>
<circle cx="693.8" cy="137.1" r="1.12" fill="#3498db" fill-opacity="0.85"/>
<circle cx="694.9" cy="137.7" r="1.12" fill="#3498db" fill-opacity="0.85"/>
<circle cx="698.5" cy="145.1" r="1.12" fill="#3498db" fill-opacity="0.85"/>
<circle cx="701.3" cy="140.4" r="1.12" fill="#3498db" fill-opacity="0.85"/>
<circle cx="704.8" cy="141.8" r="1.12" fill="#3498db" fill-opacity="0.85"/>
<circle cx="705.6" cy="144.5" r="1.12" fill="#3498db" fill-opacity="0.85"/>
<circle cx="720.0" cy="144.8" r="1.12" fill="#3498db" fill-opacity="0.85"/>
<circle cx="724.7" cy="144.8" r="1.12" fill="#3498db" fill-opacity="0.85"/>
<circle cx="739.3" cy="145.3" r="1.12" fill="#3498db" fill-opacity="0.85"/>
<circle cx="740.9" cy="145.3" r="1.12" fill="#3498db" fill-opacity="0.85"/>
<circle cx="752.9" cy="142.4" r="1.12" fill="#3498db" fill-opacity="0.85"/>
<circle cx="758.4" cy="142.3" r="1.12" fill="#3498db" fill-opacity="0.85"/>
<circle cx="764.8" cy="142.0" r="1.12" fill="#3498db" fill-opacity="0.85"/>
<circle cx="789.1" cy="146.7" r="1.12" fill="#3498db" fill-opacity="0.85"/>
<circle cx="797.4" cy="146.7" r="1.12" fill="#3498db" fill-opacity="0.85"/>
<circle cx="880.4" cy="145.1" r="1.12" fill="#3498db" fill-opacity="0.85"/>
<circle cx="630.4" cy="105.7" r="1.45" fill="#f39c12"/>
<text transform="translate(632.70,104.50)" font-size="3.2" fill="#f5a623" text-anchor="start" font-weight="normal" stroke="#f5a623" stroke-width="0.12">Novavax</text>
<circle cx="652.7" cy="117.6" r="1.45" fill="#f39c12"/>
<text transform="translate(655.00,116.40)" font-size="3.2" fill="#f5a623" text-anchor="start" font-weight="normal" stroke="#f5a623" stroke-width="0.12">FH0956</text>
<circle cx="654.7" cy="120.0" r="1.45" fill="#f39c12"/>
<text transform="translate(657.00,118.80)" font-size="3.2" fill="#f5a623" text-anchor="start" font-weight="normal" stroke="#f5a623" stroke-width="0.12">CJ7554</text>
<circle cx="661.5" cy="126.4" r="1.45" fill="#f39c12"/>
<text transform="translate(663.80,125.20)" font-size="3.2" fill="#f5a623" text-anchor="start" font-weight="normal" stroke="#f5a623" stroke-width="0.12">HH9917</text>
<circle cx="702.6" cy="135.8" r="1.45" fill="#f39c12"/>
<text transform="translate(704.90,134.60)" font-size="3.2" fill="#f5a623" text-anchor="start" font-weight="normal" stroke="#f5a623" stroke-width="0.12">HG3036</text>
<circle cx="719.5" cy="137.3" r="1.45" fill="#f39c12"/>
<text transform="translate(721.80,136.10)" font-size="3.2" fill="#f5a623" text-anchor="start" font-weight="normal" stroke="#f5a623" stroke-width="0.12">T1790</text>
<circle cx="723.3" cy="138.0" r="1.45" fill="#f39c12"/>
<circle cx="725.2" cy="138.8" r="1.45" fill="#f39c12"/>
<text transform="translate(727.50,137.60)" font-size="3.2" fill="#f5a623" text-anchor="start" font-weight="normal" stroke="#f5a623" stroke-width="0.12">9H9B1M</text>
<circle cx="748.7" cy="138.5" r="1.45" fill="#f39c12"/>
<text transform="translate(751.00,137.30)" font-size="3.2" fill="#f5a623" text-anchor="start" font-weight="normal" stroke="#f5a623" stroke-width="0.12">3C9481</text>
<circle cx="791.8" cy="142.3" r="1.45" fill="#f39c12"/>
<text transform="translate(794.10,141.10)" font-size="3.2" fill="#f5a623" text-anchor="start" font-weight="normal" stroke="#f5a623" stroke-width="0.12">T1991IX</text>
<circle cx="915.0" cy="145.4" r="1.45" fill="#f39c12"/>
<text transform="translate(917.30,144.20)" font-size="3.2" fill="#f5a623" text-anchor="start" font-weight="normal" stroke="#f5a623" stroke-width="0.12">T1990ML</text>
<circle cx="652.6" cy="34.1" r="1.65" fill="#e53e2f"/>
<text transform="translate(654.90,31.80)" font-size="3.2" fill="#e74c3c" text-anchor="start" font-weight="normal" stroke="#e74c3c" stroke-width="0.12">HE7631</text>
<circle cx="626.0" cy="71.6" r="1.65" fill="#e53e2f"/>
<text transform="translate(628.30,69.30)" font-size="3.2" fill="#e74c3c" text-anchor="start" font-weight="normal" stroke="#e74c3c" stroke-width="0.12">FL3199</text>
<circle cx="634.2" cy="90.0" r="1.65" fill="#e53e2f"/>
<text transform="translate(636.50,87.70)" font-size="3.2" fill="#e74c3c" text-anchor="start" font-weight="normal" stroke="#e74c3c" stroke-width="0.12">HH1299</text>
<circle cx="650.5" cy="90.0" r="1.65" fill="#e53e2f"/>
<text transform="translate(652.80,87.70)" font-size="3.2" fill="#e74c3c" text-anchor="start" font-weight="normal" stroke="#e74c3c" stroke-width="0.12">HB9868</text>
<circle cx="652.7" cy="94.1" r="1.65" fill="#e53e2f"/>
<text transform="translate(655.00,91.80)" font-size="3.2" fill="#e74c3c" text-anchor="start" font-weight="normal" stroke="#e74c3c" stroke-width="0.12">FH0384</text>
<circle cx="699.9" cy="87.1" r="1.65" fill="#e53e2f"/>
<text transform="translate(702.20,84.80)" font-size="3.2" fill="#e74c3c" text-anchor="start" font-weight="normal" stroke="#e74c3c" stroke-width="0.12">T1700ITA</text>
<circle cx="643.6" cy="105.9" r="1.65" fill="#e53e2f"/>
<text transform="translate(645.90,103.60)" font-size="3.2" fill="#e74c3c" text-anchor="start" font-weight="normal" stroke="#e74c3c" stroke-width="0.12">ZE0916M</text>
<circle cx="646.0" cy="109.5" r="1.65" fill="#e53e2f"/>
<text transform="translate(648.30,107.20)" font-size="3.2" fill="#e74c3c" text-anchor="start" font-weight="normal" stroke="#e74c3c" stroke-width="0.12">GJ0136</text>
<circle cx="691.9" cy="121.7" r="1.65" fill="#e53e2f"/>
<text transform="translate(694.20,119.40)" font-size="3.2" fill="#e74c3c" text-anchor="start" font-weight="normal" stroke="#e74c3c" stroke-width="0.12">G21852</text>
<circle cx="739.1" cy="128.5" r="1.65" fill="#e53e2f"/>
<text transform="translate(741.40,126.20)" font-size="3.2" fill="#e74c3c" text-anchor="start" font-weight="normal" stroke="#e74c3c" stroke-width="0.12">MOL40B001</text>
<circle cx="758.7" cy="136.3" r="1.65" fill="#e53e2f"/>
<text transform="translate(761.00,134.00)" font-size="3.2" fill="#e74c3c" text-anchor="start" font-weight="normal" stroke="#e74c3c" stroke-width="0.12">9D0931A</text>
<circle cx="779.7" cy="108.5" r="1.65" fill="#e53e2f"/>
<text transform="translate(782.00,106.20)" font-size="3.2" fill="#e74c3c" text-anchor="start" font-weight="normal" stroke="#e74c3c" stroke-width="0.12">T1990IA</text>
<circle cx="815.5" cy="141.6" r="1.65" fill="#e53e2f"/>
<text transform="translate(817.80,139.30)" font-size="3.2" fill="#e74c3c" text-anchor="start" font-weight="normal" stroke="#e74c3c" stroke-width="0.12">VPA6174</text>
<circle cx="848.2" cy="137.3" r="1.65" fill="#e53e2f"/>
<text transform="translate(850.50,135.00)" font-size="3.2" fill="#e74c3c" text-anchor="start" font-weight="normal" stroke="#e74c3c" stroke-width="0.12">T1993SA</text>
<circle cx="876.3" cy="136.3" r="1.65" fill="#e53e2f"/>
<text transform="translate(878.60,134.00)" font-size="3.2" fill="#e74c3c" text-anchor="start" font-weight="normal" stroke="#e74c3c" stroke-width="0.12">T1993IM</text>
<circle cx="886.2" cy="143.4" r="1.65" fill="#e53e2f"/>
<text transform="translate(888.50,141.10)" font-size="3.2" fill="#e74c3c" text-anchor="start" font-weight="normal" stroke="#e74c3c" stroke-width="0.12">T1990SA</text>
<circle cx="899.8" cy="129.6" r="1.65" fill="#e53e2f"/>
<text transform="translate(902.10,127.30)" font-size="3.2" fill="#e74c3c" text-anchor="start" font-weight="normal" stroke="#e74c3c" stroke-width="0.12">T2005TA</text>
<circle cx="916.4" cy="137.9" r="1.65" fill="#e53e2f"/>
<text transform="translate(918.70,135.60)" font-size="3.2" fill="#e74c3c" text-anchor="start" font-weight="normal" stroke="#e74c3c" stroke-width="0.12">T1993BA</text>
<circle cx="918.4" cy="147.1" r="1.65" fill="#e53e2f"/>
<text transform="translate(920.70,144.80)" font-size="3.2" fill="#e74c3c" text-anchor="start" font-weight="normal" stroke="#e74c3c" stroke-width="0.12">9D0801</text>
<circle cx="932.7" cy="146.5" r="1.65" fill="#e53e2f"/>
<text transform="translate(935.00,144.20)" font-size="3.2" fill="#e74c3c" text-anchor="start" font-weight="normal" stroke="#e74c3c" stroke-width="0.12">T2001SA</text>
<circle cx="992.5" cy="146.8" r="1.65" fill="#e53e2f"/>
<text transform="translate(994.80,144.50)" font-size="3.2" fill="#e74c3c" text-anchor="start" font-weight="normal" stroke="#e74c3c" stroke-width="0.12">A02223</text>
<rect x="541.5" y="17.4" width="472.20000000000005" height="271.8" fill="none" stroke="#d9d9d9" stroke-width="0.7"/>
<text transform="translate(539.70,40.10)" font-size="4.6" fill="#555" text-anchor="end" font-weight="normal" >60</text>
<text transform="translate(539.70,78.50)" font-size="4.6" fill="#555" text-anchor="end" font-weight="normal" >40</text>
<text transform="translate(539.70,116.90)" font-size="4.6" fill="#555" text-anchor="end" font-weight="normal" >20</text>
<text transform="translate(539.70,155.30)" font-size="4.6" fill="#555" text-anchor="end" font-weight="normal" >0</text>
<text transform="translate(539.70,193.70)" font-size="4.6" fill="#555" text-anchor="end" font-weight="normal" >-20</text>
<text transform="translate(539.70,232.10)" font-size="4.6" fill="#555" text-anchor="end" font-weight="normal" >-40</text>
<text transform="translate(539.70,270.50)" font-size="4.6" fill="#555" text-anchor="end" font-weight="normal" >-60</text>
<text transform="translate(563.30,294.80)" font-size="4.6" fill="#555" text-anchor="middle">10<tspan font-size="3.22" dy="-1.75">0</tspan></text>
<text transform="translate(637.50,294.80)" font-size="4.6" fill="#555" text-anchor="middle">10<tspan font-size="3.22" dy="-1.75">1</tspan></text>
<text transform="translate(711.70,294.80)" font-size="4.6" fill="#555" text-anchor="middle">10<tspan font-size="3.22" dy="-1.75">2</tspan></text>
<text transform="translate(785.90,294.80)" font-size="4.6" fill="#555" text-anchor="middle">10<tspan font-size="3.22" dy="-1.75">3</tspan></text>
<text transform="translate(860.10,294.80)" font-size="4.6" fill="#555" text-anchor="middle">10<tspan font-size="3.22" dy="-1.75">4</tspan></text>
<text transform="translate(934.30,294.80)" font-size="4.6" fill="#555" text-anchor="middle">10<tspan font-size="3.22" dy="-1.75">5</tspan></text>
<text transform="translate(1008.50,294.80)" font-size="4.6" fill="#555" text-anchor="middle">10<tspan font-size="3.22" dy="-1.75">6</tspan></text>
<text transform="translate(778.00,7.70)" font-size="5.6" fill="#333" text-anchor="middle" font-weight="bold" >Figure 1: ファンネルプロット — ロット別死亡率のランダム変動検証</text>
<text transform="translate(778.00,14.90)" font-size="5.6" fill="#333" text-anchor="middle" font-weight="bold" >赤点: 99.8%信頼区間外（統計的に異常）、橙点: 95%信頼区間外、青点: 信頼区間内</text>
<text transform="translate(530.00,153.30) rotate(-90)" font-size="5.6" fill="#333" text-anchor="middle" font-weight="bold" >死亡率 (%)</text>
<clipPath id="cx541"><rect x="541.5" y="290" width="472.20000000000005" height="11.2"/></clipPath>
<g clip-path="url(#cx541)">
<text transform="translate(776.10,303.10)" font-size="5.4" fill="#333" text-anchor="middle" font-weight="bold" >接種数（対数スケール）</text>
</g>
<rect x="962.3" y="22.4" width="10" height="3.3" fill="#fce5e2"/>
<rect x="962.3" y="29.7" width="10" height="3.3" fill="#d6e8f6"/>
<line x1="962.3" x2="972.3" y1="38.5" y2="38.5" stroke="#7a8a9a" stroke-width="0.9"/>
<text transform="translate(976.20,25.80)" font-size="4.7" fill="#555" text-anchor="start" font-weight="normal" >99.8% 信頼区間</text>
<text transform="translate(976.20,33.05)" font-size="4.7" fill="#555" text-anchor="start" font-weight="normal" >95% 信頼区間</text>
<text transform="translate(976.20,40.30)" font-size="4.7" fill="#555" text-anchor="start" font-weight="normal" >全体平均 4.57%</text>
<rect x="549.9" y="266.8" width="66.60000000000002" height="18.5" rx="1" fill="#fff" stroke="#4a4a4a" stroke-width="0.75"/>
<text transform="translate(551.90,272.20)" font-size="4.7" fill="#444" text-anchor="start" font-weight="normal" >信頼区間内: 67ロット (67%)</text>
<text transform="translate(551.90,277.65)" font-size="4.7" fill="#444" text-anchor="start" font-weight="normal" >95%区間外: 12ロット (12%)</text>
<text transform="translate(551.90,283.10)" font-size="4.7" fill="#444" text-anchor="start" font-weight="normal" >99.8%区間外: 21ロット (21%)</text>
<text transform="translate(246.70,307.50) scale(1.42,1)" font-size="4.0" fill="#333" text-anchor="middle" font-weight="bold" >Figure 4: ロット間死亡率差の統計的検証 — 総合図</text>
<rect x="19.4" y="326.9" width="217.29999999999998" height="104.60000000000002" fill="#fff"/>
<line x1="29.00" x2="29.00" y1="326.9" y2="431.5" stroke="#dedede" stroke-width="0.45"/>
<line x1="68.70" x2="68.70" y1="326.9" y2="431.5" stroke="#dedede" stroke-width="0.45"/>
<line x1="108.40" x2="108.40" y1="326.9" y2="431.5" stroke="#dedede" stroke-width="0.45"/>
<line x1="148.10" x2="148.10" y1="326.9" y2="431.5" stroke="#dedede" stroke-width="0.45"/>
<line x1="187.80" x2="187.80" y1="326.9" y2="431.5" stroke="#dedede" stroke-width="0.45"/>
<line x1="227.50" x2="227.50" y1="326.9" y2="431.5" stroke="#dedede" stroke-width="0.45"/>
<line x1="19.4" x2="236.7" y1="416.30" y2="416.30" stroke="#dedede" stroke-width="0.45"/>
<line x1="19.4" x2="236.7" y1="400.20" y2="400.20" stroke="#dedede" stroke-width="0.45"/>
<line x1="19.4" x2="236.7" y1="384.10" y2="384.10" stroke="#dedede" stroke-width="0.45"/>
<line x1="19.4" x2="236.7" y1="368.00" y2="368.00" stroke="#dedede" stroke-width="0.45"/>
<line x1="19.4" x2="236.7" y1="351.90" y2="351.90" stroke="#dedede" stroke-width="0.45"/>
<line x1="19.4" x2="236.7" y1="335.80" y2="335.80" stroke="#dedede" stroke-width="0.45"/>
<ellipse cx="60.8" cy="426.0" rx="1.45" ry="0.95" fill="#e74c3c" fill-opacity="0.75"/>
<ellipse cx="71.7" cy="426.8" rx="1.45" ry="0.95" fill="#e74c3c" fill-opacity="0.75"/>
<ellipse cx="76.3" cy="424.5" rx="1.45" ry="0.95" fill="#e74c3c" fill-opacity="0.75"/>
<ellipse cx="78.6" cy="425.8" rx="1.45" ry="0.95" fill="#e74c3c" fill-opacity="0.75"/>
<ellipse cx="81.1" cy="418.3" rx="1.45" ry="0.95" fill="#e74c3c" fill-opacity="0.75"/>
<ellipse cx="88.6" cy="424.1" rx="1.45" ry="0.95" fill="#e74c3c" fill-opacity="0.75"/>
<ellipse cx="95.1" cy="423.3" rx="1.45" ry="0.95" fill="#e74c3c" fill-opacity="0.75"/>
<ellipse cx="98.2" cy="421.2" rx="1.45" ry="0.95" fill="#e74c3c" fill-opacity="0.75"/>
<ellipse cx="103.9" cy="422.2" rx="1.45" ry="0.95" fill="#e74c3c" fill-opacity="0.75"/>
<ellipse cx="103.9" cy="426.6" rx="1.45" ry="0.95" fill="#e74c3c" fill-opacity="0.75"/>
<ellipse cx="104.5" cy="419.5" rx="1.45" ry="0.95" fill="#e74c3c" fill-opacity="0.75"/>
<ellipse cx="105.5" cy="420.1" rx="1.45" ry="0.95" fill="#e74c3c" fill-opacity="0.75"/>
<ellipse cx="108.3" cy="417.4" rx="1.45" ry="0.95" fill="#e74c3c" fill-opacity="0.75"/>
<ellipse cx="108.3" cy="422.4" rx="1.45" ry="0.95" fill="#e74c3c" fill-opacity="0.75"/>
<ellipse cx="110.6" cy="425.6" rx="1.45" ry="0.95" fill="#e74c3c" fill-opacity="0.75"/>
<ellipse cx="112.7" cy="426.0" rx="1.45" ry="0.95" fill="#e74c3c" fill-opacity="0.75"/>
<ellipse cx="115.0" cy="421.2" rx="1.45" ry="0.95" fill="#e74c3c" fill-opacity="0.75"/>
<ellipse cx="116.0" cy="382.1" rx="1.45" ry="0.95" fill="#e74c3c" fill-opacity="0.75"/>
<ellipse cx="116.6" cy="426.0" rx="1.45" ry="0.95" fill="#e74c3c" fill-opacity="0.75"/>
<ellipse cx="117.7" cy="423.3" rx="1.45" ry="0.95" fill="#e74c3c" fill-opacity="0.75"/>
<ellipse cx="121.0" cy="423.9" rx="1.45" ry="0.95" fill="#e74c3c" fill-opacity="0.75"/>
<ellipse cx="121.4" cy="426.6" rx="1.45" ry="0.95" fill="#e74c3c" fill-opacity="0.75"/>
<ellipse cx="123.3" cy="415.8" rx="1.45" ry="0.95" fill="#e74c3c" fill-opacity="0.75"/>
<ellipse cx="124.6" cy="425.2" rx="1.45" ry="0.95" fill="#e74c3c" fill-opacity="0.75"/>
<ellipse cx="125.4" cy="418.3" rx="1.45" ry="0.95" fill="#e74c3c" fill-opacity="0.75"/>
<ellipse cx="128.3" cy="421.2" rx="1.45" ry="0.95" fill="#e74c3c" fill-opacity="0.75"/>
<ellipse cx="177.9" cy="331.9" rx="1.45" ry="0.95" fill="#e74c3c" fill-opacity="0.75"/>
<ellipse cx="199.2" cy="363.5" rx="1.45" ry="0.95" fill="#e74c3c" fill-opacity="0.75"/>
<ellipse cx="190.5" cy="376.7" rx="1.45" ry="0.95" fill="#e74c3c" fill-opacity="0.75"/>
<ellipse cx="174.6" cy="378.7" rx="1.45" ry="0.95" fill="#e74c3c" fill-opacity="0.75"/>
<ellipse cx="227.5" cy="378.7" rx="1.45" ry="0.95" fill="#e74c3c" fill-opacity="0.75"/>
<ellipse cx="136.1" cy="395.1" rx="1.45" ry="0.95" fill="#e74c3c" fill-opacity="0.75"/>
<ellipse cx="144.7" cy="392.1" rx="1.45" ry="0.95" fill="#e74c3c" fill-opacity="0.75"/>
<ellipse cx="171.2" cy="394.2" rx="1.45" ry="0.95" fill="#e74c3c" fill-opacity="0.75"/>
<ellipse cx="202.8" cy="392.1" rx="1.45" ry="0.95" fill="#e74c3c" fill-opacity="0.75"/>
<ellipse cx="145.9" cy="403.8" rx="1.45" ry="0.95" fill="#e74c3c" fill-opacity="0.75"/>
<ellipse cx="215.3" cy="402.2" rx="1.45" ry="0.95" fill="#e74c3c" fill-opacity="0.75"/>
<ellipse cx="179.8" cy="405.5" rx="1.45" ry="0.95" fill="#e74c3c" fill-opacity="0.75"/>
<ellipse cx="227.5" cy="405.5" rx="1.45" ry="0.95" fill="#e74c3c" fill-opacity="0.75"/>
<ellipse cx="227.5" cy="407.6" rx="1.45" ry="0.95" fill="#e74c3c" fill-opacity="0.75"/>
<ellipse cx="161.4" cy="409.3" rx="1.45" ry="0.95" fill="#e74c3c" fill-opacity="0.75"/>
<ellipse cx="160.1" cy="411.8" rx="1.45" ry="0.95" fill="#e74c3c" fill-opacity="0.75"/>
<ellipse cx="199.2" cy="409.3" rx="1.45" ry="0.95" fill="#e74c3c" fill-opacity="0.75"/>
<ellipse cx="201.1" cy="410.9" rx="1.45" ry="0.95" fill="#e74c3c" fill-opacity="0.75"/>
<ellipse cx="177.9" cy="412.0" rx="1.45" ry="0.95" fill="#e74c3c" fill-opacity="0.75"/>
<ellipse cx="213.9" cy="410.9" rx="1.45" ry="0.95" fill="#e74c3c" fill-opacity="0.75"/>
<ellipse cx="183.6" cy="414.3" rx="1.45" ry="0.95" fill="#e74c3c" fill-opacity="0.75"/>
<ellipse cx="227.5" cy="414.3" rx="1.45" ry="0.95" fill="#e74c3c" fill-opacity="0.75"/>
<ellipse cx="205.3" cy="414.5" rx="1.45" ry="0.95" fill="#e74c3c" fill-opacity="0.75"/>
<ellipse cx="123.1" cy="415.5" rx="1.45" ry="0.95" fill="#e74c3c" fill-opacity="0.75"/>
<ellipse cx="134.6" cy="416.4" rx="1.45" ry="0.95" fill="#e74c3c" fill-opacity="0.75"/>
<ellipse cx="136.7" cy="417.6" rx="1.45" ry="0.95" fill="#e74c3c" fill-opacity="0.75"/>
<ellipse cx="125.2" cy="418.3" rx="1.45" ry="0.95" fill="#e74c3c" fill-opacity="0.75"/>
<ellipse cx="128.4" cy="421.0" rx="1.45" ry="0.95" fill="#e74c3c" fill-opacity="0.75"/>
<ellipse cx="147.2" cy="417.8" rx="1.45" ry="0.95" fill="#e74c3c" fill-opacity="0.75"/>
<ellipse cx="153.2" cy="415.8" rx="1.45" ry="0.95" fill="#e74c3c" fill-opacity="0.75"/>
<ellipse cx="155.5" cy="417.4" rx="1.45" ry="0.95" fill="#e74c3c" fill-opacity="0.75"/>
<ellipse cx="150.9" cy="417.4" rx="1.45" ry="0.95" fill="#e74c3c" fill-opacity="0.75"/>
<ellipse cx="164.7" cy="415.5" rx="1.45" ry="0.95" fill="#e74c3c" fill-opacity="0.75"/>
<ellipse cx="171.2" cy="417.0" rx="1.45" ry="0.95" fill="#e74c3c" fill-opacity="0.75"/>
<ellipse cx="164.1" cy="419.3" rx="1.45" ry="0.95" fill="#e74c3c" fill-opacity="0.75"/>
<ellipse cx="197.4" cy="418.5" rx="1.45" ry="0.95" fill="#e74c3c" fill-opacity="0.75"/>
<ellipse cx="205.3" cy="419.5" rx="1.45" ry="0.95" fill="#e74c3c" fill-opacity="0.75"/>
<ellipse cx="211.4" cy="418.9" rx="1.45" ry="0.95" fill="#e74c3c" fill-opacity="0.75"/>
<ellipse cx="213.9" cy="418.3" rx="1.45" ry="0.95" fill="#e74c3c" fill-opacity="0.75"/>
<ellipse cx="217.4" cy="417.6" rx="1.45" ry="0.95" fill="#e74c3c" fill-opacity="0.75"/>
<ellipse cx="219.9" cy="418.3" rx="1.45" ry="0.95" fill="#e74c3c" fill-opacity="0.75"/>
<ellipse cx="227.5" cy="417.6" rx="1.45" ry="0.95" fill="#e74c3c" fill-opacity="0.75"/>
<ellipse cx="148.2" cy="421.4" rx="1.45" ry="0.95" fill="#e74c3c" fill-opacity="0.75"/>
<ellipse cx="151.4" cy="422.9" rx="1.45" ry="0.95" fill="#e74c3c" fill-opacity="0.75"/>
<ellipse cx="147.6" cy="423.9" rx="1.45" ry="0.95" fill="#e74c3c" fill-opacity="0.75"/>
<ellipse cx="165.8" cy="422.4" rx="1.45" ry="0.95" fill="#e74c3c" fill-opacity="0.75"/>
<ellipse cx="161.4" cy="425.0" rx="1.45" ry="0.95" fill="#e74c3c" fill-opacity="0.75"/>
<ellipse cx="158.9" cy="426.4" rx="1.45" ry="0.95" fill="#e74c3c" fill-opacity="0.75"/>
<ellipse cx="176.5" cy="422.0" rx="1.45" ry="0.95" fill="#e74c3c" fill-opacity="0.75"/>
<ellipse cx="174.2" cy="426.0" rx="1.45" ry="0.95" fill="#e74c3c" fill-opacity="0.75"/>
<ellipse cx="177.9" cy="425.2" rx="1.45" ry="0.95" fill="#e74c3c" fill-opacity="0.75"/>
<ellipse cx="181.0" cy="424.5" rx="1.45" ry="0.95" fill="#e74c3c" fill-opacity="0.75"/>
<ellipse cx="184.8" cy="423.7" rx="1.45" ry="0.95" fill="#e74c3c" fill-opacity="0.75"/>
<ellipse cx="187.9" cy="421.6" rx="1.45" ry="0.95" fill="#e74c3c" fill-opacity="0.75"/>
<ellipse cx="188.8" cy="425.0" rx="1.45" ry="0.95" fill="#e74c3c" fill-opacity="0.75"/>
<ellipse cx="192.1" cy="426.6" rx="1.45" ry="0.95" fill="#e74c3c" fill-opacity="0.75"/>
<ellipse cx="197.4" cy="422.2" rx="1.45" ry="0.95" fill="#e74c3c" fill-opacity="0.75"/>
<ellipse cx="199.2" cy="420.4" rx="1.45" ry="0.95" fill="#e74c3c" fill-opacity="0.75"/>
<ellipse cx="198.4" cy="424.5" rx="1.45" ry="0.95" fill="#e74c3c" fill-opacity="0.75"/>
<ellipse cx="198.4" cy="426.2" rx="1.45" ry="0.95" fill="#e74c3c" fill-opacity="0.75"/>
<ellipse cx="203.2" cy="425.0" rx="1.45" ry="0.95" fill="#e74c3c" fill-opacity="0.75"/>
<ellipse cx="205.3" cy="423.3" rx="1.45" ry="0.95" fill="#e74c3c" fill-opacity="0.75"/>
<ellipse cx="211.4" cy="421.8" rx="1.45" ry="0.95" fill="#e74c3c" fill-opacity="0.75"/>
<ellipse cx="213.9" cy="420.6" rx="1.45" ry="0.95" fill="#e74c3c" fill-opacity="0.75"/>
<ellipse cx="215.1" cy="422.4" rx="1.45" ry="0.95" fill="#e74c3c" fill-opacity="0.75"/>
<ellipse cx="121.0" cy="426.6" rx="1.45" ry="0.95" fill="#e74c3c" fill-opacity="0.75"/>
<ellipse cx="138.4" cy="425.4" rx="1.45" ry="0.95" fill="#e74c3c" fill-opacity="0.75"/>
<ellipse cx="142.6" cy="426.0" rx="1.45" ry="0.95" fill="#e74c3c" fill-opacity="0.75"/>
<ellipse cx="144.0" cy="426.6" rx="1.45" ry="0.95" fill="#e74c3c" fill-opacity="0.75"/>
<ellipse cx="147.2" cy="426.6" rx="1.45" ry="0.95" fill="#e74c3c" fill-opacity="0.75"/>
<line x1="29.2" y1="427.0" x2="227.5" y2="410.3" stroke="#222" stroke-width="0.62" stroke-dasharray="2.4 1.1"/>
<rect x="19.4" y="326.9" width="217.29999999999998" height="104.60000000000002" fill="none" stroke="#dadada" stroke-width="0.6"/>
<text transform="translate(29.00,435.30) scale(1.42,1)" font-size="3.3" fill="#333" text-anchor="middle" font-weight="normal" >0</text>
<text transform="translate(68.70,435.30) scale(1.42,1)" font-size="3.3" fill="#333" text-anchor="middle" font-weight="normal" >20</text>
<text transform="translate(108.40,435.30) scale(1.42,1)" font-size="3.3" fill="#333" text-anchor="middle" font-weight="normal" >40</text>
<text transform="translate(148.10,435.30) scale(1.42,1)" font-size="3.3" fill="#333" text-anchor="middle" font-weight="normal" >60</text>
<text transform="translate(187.80,435.30) scale(1.42,1)" font-size="3.3" fill="#333" text-anchor="middle" font-weight="normal" >80</text>
<text transform="translate(227.50,435.30) scale(1.42,1)" font-size="3.3" fill="#333" text-anchor="middle" font-weight="normal" >100</text>
<text transform="translate(17.90,417.40) scale(1.42,1)" font-size="3.3" fill="#333" text-anchor="end" font-weight="normal" >10</text>
<text transform="translate(17.90,401.30) scale(1.42,1)" font-size="3.3" fill="#333" text-anchor="end" font-weight="normal" >20</text>
<text transform="translate(17.90,385.20) scale(1.42,1)" font-size="3.3" fill="#333" text-anchor="end" font-weight="normal" >30</text>
<text transform="translate(17.90,369.10) scale(1.42,1)" font-size="3.3" fill="#333" text-anchor="end" font-weight="normal" >40</text>
<text transform="translate(17.90,353.00) scale(1.42,1)" font-size="3.3" fill="#333" text-anchor="end" font-weight="normal" >50</text>
<text transform="translate(17.90,336.90) scale(1.42,1)" font-size="3.3" fill="#333" text-anchor="end" font-weight="normal" >60</text>
<text transform="translate(128.00,321.90) scale(1.42,1)" font-size="3.5" fill="#222" text-anchor="middle" font-weight="bold" >(A) 高齢者比率と総死亡率の関係</text>
<text transform="translate(128.00,326.00) scale(1.42,1)" font-size="3.5" fill="#222" text-anchor="middle" font-weight="bold" >(交絡因子の影響)</text>
<text transform="translate(128.00,439.60) scale(1.42,1)" font-size="3.3" fill="#444" text-anchor="middle" font-weight="normal" >高齢者比率 (%)</text>
<text transform="translate(9.60,379.50) scale(1.42,1) rotate(-90)" font-size="3.1" fill="#444" text-anchor="middle" font-weight="normal">総死亡率 (%)</text>
<line x1="22" y1="330.7" x2="30" y2="330.7" stroke="#222" stroke-width="0.6" stroke-dasharray="2 1"/>
<text transform="translate(33.70,331.70) scale(1.42,1)" font-size="2.65" fill="#444" text-anchor="start" font-weight="normal" >回帰直線 (r=0.243, p=0.0150)</text>
<rect x="271.7" y="327.3" width="218.8" height="104.39999999999998" fill="#fff"/>
<line x1="281.50" x2="281.50" y1="327.3" y2="431.7" stroke="#dedede" stroke-width="0.45"/>
<line x1="321.74" x2="321.74" y1="327.3" y2="431.7" stroke="#dedede" stroke-width="0.45"/>
<line x1="361.98" x2="361.98" y1="327.3" y2="431.7" stroke="#dedede" stroke-width="0.45"/>
<line x1="402.22" x2="402.22" y1="327.3" y2="431.7" stroke="#dedede" stroke-width="0.45"/>
<line x1="442.46" x2="442.46" y1="327.3" y2="431.7" stroke="#dedede" stroke-width="0.45"/>
<line x1="482.70" x2="482.70" y1="327.3" y2="431.7" stroke="#dedede" stroke-width="0.45"/>
<line x1="271.7" x2="490.5" y1="417.66" y2="417.66" stroke="#dedede" stroke-width="0.45"/>
<line x1="271.7" x2="490.5" y1="403.62" y2="403.62" stroke="#dedede" stroke-width="0.45"/>
<line x1="271.7" x2="490.5" y1="389.58" y2="389.58" stroke="#dedede" stroke-width="0.45"/>
<line x1="271.7" x2="490.5" y1="375.54" y2="375.54" stroke="#dedede" stroke-width="0.45"/>
<line x1="271.7" x2="490.5" y1="361.50" y2="361.50" stroke="#dedede" stroke-width="0.45"/>
<line x1="271.7" x2="490.5" y1="347.46" y2="347.46" stroke="#dedede" stroke-width="0.45"/>
<line x1="271.7" x2="490.5" y1="333.42" y2="333.42" stroke="#dedede" stroke-width="0.45"/>
<rect x="281.65" y="332.02" width="9.76" height="99.68" fill="#6ab1e3"/>
<rect x="291.71" y="406.43" width="9.76" height="25.27" fill="#6ab1e3"/>
<rect x="301.77" y="406.43" width="9.76" height="25.27" fill="#6ab1e3"/>
<rect x="311.83" y="409.24" width="9.76" height="22.46" fill="#6ab1e3"/>
<rect x="321.89" y="423.28" width="9.76" height="8.42" fill="#6ab1e3"/>
<rect x="331.95" y="414.85" width="9.76" height="16.85" fill="#6ab1e3"/>
<rect x="342.01" y="423.28" width="9.76" height="8.42" fill="#6ab1e3"/>
<rect x="362.13" y="420.47" width="9.76" height="11.23" fill="#6ab1e3"/>
<rect x="372.19" y="423.28" width="9.76" height="8.42" fill="#6ab1e3"/>
<rect x="402.37" y="420.47" width="9.76" height="11.23" fill="#6ab1e3"/>
<rect x="412.43" y="428.89" width="9.76" height="2.81" fill="#6ab1e3"/>
<rect x="422.49" y="417.66" width="9.76" height="14.04" fill="#6ab1e3"/>
<rect x="432.55" y="420.47" width="9.76" height="11.23" fill="#6ab1e3"/>
<rect x="442.61" y="423.28" width="9.76" height="8.42" fill="#6ab1e3"/>
<rect x="462.73" y="428.89" width="9.76" height="2.81" fill="#6ab1e3"/>
<rect x="472.79" y="426.08" width="9.76" height="5.62" fill="#6ab1e3"/>
<line x1="271.7" x2="490.5" y1="417.66" y2="417.66" stroke="#e74c3c" stroke-opacity="0.6" stroke-width="0.7" stroke-dasharray="2.5 1.5"/>
<rect x="271.7" y="327.3" width="218.8" height="104.39999999999998" fill="none" stroke="#dadada" stroke-width="0.6"/>
<text transform="translate(281.50,435.30) scale(1.42,1)" font-size="3.3" fill="#333" text-anchor="middle" font-weight="normal" >0.0</text>
<text transform="translate(321.74,435.30) scale(1.42,1)" font-size="3.3" fill="#333" text-anchor="middle" font-weight="normal" >0.2</text>
<text transform="translate(361.98,435.30) scale(1.42,1)" font-size="3.3" fill="#333" text-anchor="middle" font-weight="normal" >0.4</text>
<text transform="translate(402.22,435.30) scale(1.42,1)" font-size="3.3" fill="#333" text-anchor="middle" font-weight="normal" >0.6</text>
<text transform="translate(442.46,435.30) scale(1.42,1)" font-size="3.3" fill="#333" text-anchor="middle" font-weight="normal" >0.8</text>
<text transform="translate(482.70,435.30) scale(1.42,1)" font-size="3.3" fill="#333" text-anchor="middle" font-weight="normal" >1.0</text>
<text transform="translate(269.90,432.80) scale(1.42,1)" font-size="3.3" fill="#333" text-anchor="end" font-weight="normal" >0</text>
<text transform="translate(269.90,418.76) scale(1.42,1)" font-size="3.3" fill="#333" text-anchor="end" font-weight="normal" >1</text>
<text transform="translate(269.90,404.72) scale(1.42,1)" font-size="3.3" fill="#333" text-anchor="end" font-weight="normal" >2</text>
<text transform="translate(269.90,390.68) scale(1.42,1)" font-size="3.3" fill="#333" text-anchor="end" font-weight="normal" >3</text>
<text transform="translate(269.90,376.64) scale(1.42,1)" font-size="3.3" fill="#333" text-anchor="end" font-weight="normal" >4</text>
<text transform="translate(269.90,362.60) scale(1.42,1)" font-size="3.3" fill="#333" text-anchor="end" font-weight="normal" >5</text>
<text transform="translate(269.90,348.56) scale(1.42,1)" font-size="3.3" fill="#333" text-anchor="end" font-weight="normal" >6</text>
<text transform="translate(269.90,334.52) scale(1.42,1)" font-size="3.3" fill="#333" text-anchor="end" font-weight="normal" >7</text>
<text transform="translate(381.10,321.90) scale(1.42,1)" font-size="3.5" fill="#222" text-anchor="middle" font-weight="bold" >(B) 二項検定のp値分布</text>
<text transform="translate(381.10,326.00) scale(1.42,1)" font-size="3.5" fill="#222" text-anchor="middle" font-weight="bold" >(一様分布からの乖離を検証)</text>
<text transform="translate(381.10,439.30) scale(1.42,1)" font-size="3.3" fill="#444" text-anchor="middle" font-weight="normal" >p値</text>
<text transform="translate(263.80,379.60) scale(1.42,1) rotate(-90)" font-size="3.1" fill="#444" text-anchor="middle" font-weight="normal">密度</text>
<line x1="415.2" y1="330.7" x2="423" y2="330.7" stroke="#e74c3c" stroke-opacity="0.6" stroke-width="0.6" stroke-dasharray="2 1"/>
<text transform="translate(425.80,331.80) scale(1.42,1)" font-size="2.75" fill="#444" text-anchor="start" font-weight="normal" >一様分布（帰無仮説が正しい場合）</text>
<rect x="19.3" y="451.8" width="217.7" height="104.49999999999994" fill="#fff"/>
<line x1="47.00" x2="47.00" y1="451.8" y2="556.3" stroke="#dedede" stroke-width="0.45"/>
<line x1="83.10" x2="83.10" y1="451.8" y2="556.3" stroke="#dedede" stroke-width="0.45"/>
<line x1="119.20" x2="119.20" y1="451.8" y2="556.3" stroke="#dedede" stroke-width="0.45"/>
<line x1="155.30" x2="155.30" y1="451.8" y2="556.3" stroke="#dedede" stroke-width="0.45"/>
<line x1="191.40" x2="191.40" y1="451.8" y2="556.3" stroke="#dedede" stroke-width="0.45"/>
<line x1="227.50" x2="227.50" y1="451.8" y2="556.3" stroke="#dedede" stroke-width="0.45"/>
<line x1="19.3" x2="237.0" y1="479.50" y2="479.50" stroke="#dedede" stroke-width="0.45"/>
<line x1="19.3" x2="237.0" y1="514.30" y2="514.30" stroke="#dedede" stroke-width="0.45"/>
<line x1="19.3" x2="237.0" y1="548.80" y2="548.80" stroke="#dedede" stroke-width="0.45"/>
<line x1="29.3" y1="456.5" x2="227.5" y2="551.8" stroke="#2f2ff5" stroke-width="0.95"/>
<line x1="40" y1="461.6" x2="75" y2="478.4" stroke="#3498db" stroke-width="1.3" stroke-opacity="0.6"/>
<circle cx="54.6" cy="468.9" r="0.55" fill="#e74c3c" fill-opacity="0.6"/>
<circle cx="78.3" cy="480.2" r="0.55" fill="#e74c3c" fill-opacity="0.6"/>
<circle cx="88.6" cy="485.1" r="0.55" fill="#e74c3c" fill-opacity="0.6"/>
<circle cx="101" cy="491" r="0.55" fill="#e74c3c" fill-opacity="0.6"/>
<circle cx="116.1" cy="498.4" r="0.55" fill="#e74c3c" fill-opacity="0.6"/>
<circle cx="122.1" cy="500.8" r="0.55" fill="#e74c3c" fill-opacity="0.6"/>
<circle cx="150.5" cy="514.6" r="0.55" fill="#e74c3c" fill-opacity="0.6"/>
<circle cx="162" cy="520.1" r="0.55" fill="#e74c3c" fill-opacity="0.6"/>
<circle cx="178" cy="527.9" r="0.55" fill="#e74c3c" fill-opacity="0.6"/>
<rect x="19.3" y="451.8" width="217.7" height="104.49999999999994" fill="none" stroke="#dadada" stroke-width="0.6"/>
<text transform="translate(47.00,560.00) scale(1.42,1)" font-size="2.9" fill="#555" text-anchor="middle">10<tspan font-size="2.03" dy="-1.10">1</tspan></text>
<text transform="translate(83.10,560.00) scale(1.42,1)" font-size="2.9" fill="#555" text-anchor="middle">10<tspan font-size="2.03" dy="-1.10">2</tspan></text>
<text transform="translate(119.20,560.00) scale(1.42,1)" font-size="2.9" fill="#555" text-anchor="middle">10<tspan font-size="2.03" dy="-1.10">3</tspan></text>
<text transform="translate(155.30,560.00) scale(1.42,1)" font-size="2.9" fill="#555" text-anchor="middle">10<tspan font-size="2.03" dy="-1.10">4</tspan></text>
<text transform="translate(191.40,560.00) scale(1.42,1)" font-size="2.9" fill="#555" text-anchor="middle">10<tspan font-size="2.03" dy="-1.10">5</tspan></text>
<text transform="translate(227.50,560.00) scale(1.42,1)" font-size="2.9" fill="#555" text-anchor="middle">10<tspan font-size="2.03" dy="-1.10">6</tspan></text>
<text transform="translate(13.30,480.50) scale(1.42,1)" font-size="2.9" fill="#555" text-anchor="middle">10<tspan font-size="2.03" dy="-1.10">1</tspan></text>
<text transform="translate(13.30,515.30) scale(1.42,1)" font-size="2.9" fill="#555" text-anchor="middle">10<tspan font-size="2.03" dy="-1.10">0</tspan></text>
<text transform="translate(13.30,549.80) scale(1.42,1)" font-size="2.9" fill="#555" text-anchor="middle">10<tspan font-size="2.03" dy="-1.10">-1</tspan></text>
<text transform="translate(128.00,447.10) scale(1.42,1)" font-size="3.5" fill="#222" text-anchor="middle" font-weight="bold" >(C) 接種数と信頼区間の幅</text>
<text transform="translate(128.00,451.10) scale(1.42,1)" font-size="3.5" fill="#222" text-anchor="middle" font-weight="bold" >(小規模ロットの不確実性)</text>
<text transform="translate(128.00,564.20) scale(1.42,1)" font-size="3.3" fill="#444" text-anchor="middle" font-weight="normal" >接種数</text>
<text transform="translate(6.40,504.00) scale(1.42,1) rotate(-90)" font-size="3.1" fill="#444" text-anchor="middle" font-weight="normal">95%信頼区間の幅 (%ポイント)</text>
<line x1="192.5" y1="455.3" x2="200" y2="455.3" stroke="#2f2ff5" stroke-width="0.7"/>
<text transform="translate(203.30,456.30) scale(1.42,1)" font-size="2.7" fill="#444" text-anchor="start" font-weight="normal" >95%信頼区間の幅</text>
<rect x="271.8" y="451.7" width="218.39999999999998" height="104.30000000000001" fill="#fff"/>
<line x1="303.70" x2="303.70" y1="451.7" y2="556.0" stroke="#dedede" stroke-width="0.45"/>
<line x1="335.60" x2="335.60" y1="451.7" y2="556.0" stroke="#dedede" stroke-width="0.45"/>
<line x1="367.50" x2="367.50" y1="451.7" y2="556.0" stroke="#dedede" stroke-width="0.45"/>
<line x1="399.40" x2="399.40" y1="451.7" y2="556.0" stroke="#dedede" stroke-width="0.45"/>
<line x1="431.30" x2="431.30" y1="451.7" y2="556.0" stroke="#dedede" stroke-width="0.45"/>
<line x1="463.20" x2="463.20" y1="451.7" y2="556.0" stroke="#dedede" stroke-width="0.45"/>
<line x1="271.8" x2="490.2" y1="459.00" y2="459.00" stroke="#dedede" stroke-width="0.45"/>
<line x1="271.8" x2="490.2" y1="466.00" y2="466.00" stroke="#dedede" stroke-width="0.45"/>
<line x1="271.8" x2="490.2" y1="473.00" y2="473.00" stroke="#dedede" stroke-width="0.45"/>
<line x1="271.8" x2="490.2" y1="480.00" y2="480.00" stroke="#dedede" stroke-width="0.45"/>
<line x1="271.8" x2="490.2" y1="487.00" y2="487.00" stroke="#dedede" stroke-width="0.45"/>
<line x1="271.8" x2="490.2" y1="494.00" y2="494.00" stroke="#dedede" stroke-width="0.45"/>
<line x1="271.8" x2="490.2" y1="501.00" y2="501.00" stroke="#dedede" stroke-width="0.45"/>
<line x1="271.8" x2="490.2" y1="508.00" y2="508.00" stroke="#dedede" stroke-width="0.45"/>
<line x1="271.8" x2="490.2" y1="515.00" y2="515.00" stroke="#dedede" stroke-width="0.45"/>
<line x1="271.8" x2="490.2" y1="522.00" y2="522.00" stroke="#dedede" stroke-width="0.45"/>
<line x1="271.8" x2="490.2" y1="529.00" y2="529.00" stroke="#dedede" stroke-width="0.45"/>
<line x1="271.8" x2="490.2" y1="536.00" y2="536.00" stroke="#dedede" stroke-width="0.45"/>
<line x1="271.8" x2="490.2" y1="543.00" y2="543.00" stroke="#dedede" stroke-width="0.45"/>
<line x1="271.8" x2="490.2" y1="550.00" y2="550.00" stroke="#dedede" stroke-width="0.45"/>
<rect x="271.8" y="456.90" width="202.41" height="4.2" fill="#ec7d70"/>
<line x1="468.14" x2="479.79" y1="459.00" y2="459.00" stroke="#222" stroke-width="0.5"/>
<line x1="468.14" x2="468.14" y1="457.75" y2="460.25" stroke="#111" stroke-width="0.75"/>
<line x1="479.79" x2="479.79" y1="457.75" y2="460.25" stroke="#111" stroke-width="0.75"/>
<text transform="translate(270.30,459.80) scale(1.42,1)" font-size="2.15" fill="#222" text-anchor="end" font-weight="normal" >FE8075 (n=126,000)</text>
<rect x="271.8" y="463.90" width="144.99" height="4.2" fill="#ec7d70"/>
<line x1="410.09" x2="423.80" y1="466.00" y2="466.00" stroke="#222" stroke-width="0.5"/>
<line x1="410.09" x2="410.09" y1="464.75" y2="467.25" stroke="#111" stroke-width="0.75"/>
<line x1="423.80" x2="423.80" y1="464.75" y2="467.25" stroke="#111" stroke-width="0.75"/>
<text transform="translate(270.30,466.80) scale(1.42,1)" font-size="2.15" fill="#222" text-anchor="end" font-weight="normal" >FE8163 (n=16,300)</text>
<rect x="271.8" y="470.90" width="138.45" height="4.2" fill="#ec7d70"/>
<line x1="399.72" x2="420.77" y1="473.00" y2="473.00" stroke="#222" stroke-width="0.5"/>
<line x1="399.72" x2="399.72" y1="471.75" y2="474.25" stroke="#111" stroke-width="0.75"/>
<line x1="420.77" x2="420.77" y1="471.75" y2="474.25" stroke="#111" stroke-width="0.75"/>
<text transform="translate(270.30,473.80) scale(1.42,1)" font-size="2.15" fill="#222" text-anchor="end" font-weight="normal" >T1990IA (n=6,910)</text>
<rect x="271.8" y="477.90" width="132.86" height="4.2" fill="#ec7d70"/>
<line x1="401.15" x2="407.85" y1="480.00" y2="480.00" stroke="#222" stroke-width="0.5"/>
<line x1="401.15" x2="401.15" y1="478.75" y2="481.25" stroke="#111" stroke-width="0.75"/>
<line x1="407.85" x2="407.85" y1="478.75" y2="481.25" stroke="#111" stroke-width="0.75"/>
<text transform="translate(270.30,480.80) scale(1.42,1)" font-size="2.15" fill="#222" text-anchor="end" font-weight="normal" >FE8064 (n=58,300)</text>
<rect x="271.8" y="484.90" width="101.28" height="4.2" fill="#ec7d70"/>
<line x1="358.25" x2="388.39" y1="487.00" y2="487.00" stroke="#222" stroke-width="0.5"/>
<line x1="358.25" x2="358.25" y1="485.75" y2="488.25" stroke="#111" stroke-width="0.75"/>
<line x1="388.39" x2="388.39" y1="485.75" y2="488.25" stroke="#111" stroke-width="0.75"/>
<text transform="translate(270.30,487.80) scale(1.42,1)" font-size="2.15" fill="#222" text-anchor="end" font-weight="normal" >9F5815 (n=2,460)</text>
<rect x="271.8" y="491.90" width="97.45" height="4.2" fill="#ec7d70"/>
<line x1="347.56" x2="391.11" y1="494.00" y2="494.00" stroke="#222" stroke-width="0.5"/>
<line x1="347.56" x2="347.56" y1="492.75" y2="495.25" stroke="#111" stroke-width="0.75"/>
<line x1="391.11" x2="391.11" y1="492.75" y2="495.25" stroke="#111" stroke-width="0.75"/>
<text transform="translate(270.30,494.80) scale(1.42,1)" font-size="2.15" fill="#222" text-anchor="end" font-weight="normal" >T60058 (n=1,150)</text>
<rect x="271.8" y="498.90" width="85.97" height="4.2" fill="#ec7d70"/>
<line x1="353.14" x2="362.40" y1="501.00" y2="501.00" stroke="#222" stroke-width="0.5"/>
<line x1="353.14" x2="353.14" y1="499.75" y2="502.25" stroke="#111" stroke-width="0.75"/>
<line x1="362.40" x2="362.40" y1="499.75" y2="502.25" stroke="#111" stroke-width="0.75"/>
<text transform="translate(270.30,501.80) scale(1.42,1)" font-size="2.15" fill="#222" text-anchor="end" font-weight="normal" >FE8934 (n=22,270)</text>
<rect x="271.8" y="505.90" width="73.05" height="4.2" fill="#6ab1e3"/>
<line x1="339.75" x2="349.16" y1="508.00" y2="508.00" stroke="#222" stroke-width="0.5"/>
<line x1="339.75" x2="339.75" y1="506.75" y2="509.25" stroke="#111" stroke-width="0.75"/>
<line x1="349.16" x2="349.16" y1="506.75" y2="509.25" stroke="#111" stroke-width="0.75"/>
<text transform="translate(270.30,508.80) scale(1.42,1)" font-size="2.15" fill="#222" text-anchor="end" font-weight="normal" >T1990IS (n=16,010)</text>
<rect x="271.8" y="512.90" width="68.74" height="4.2" fill="#ec7d70"/>
<line x1="337.51" x2="343.26" y1="515.00" y2="515.00" stroke="#222" stroke-width="0.5"/>
<line x1="337.51" x2="337.51" y1="513.75" y2="516.25" stroke="#111" stroke-width="0.75"/>
<line x1="343.26" x2="343.26" y1="513.75" y2="516.25" stroke="#111" stroke-width="0.75"/>
<text transform="translate(270.30,515.80) scale(1.42,1)" font-size="2.15" fill="#222" text-anchor="end" font-weight="normal" >FE8331 (n=50,100)</text>
<rect x="271.8" y="519.90" width="63.64" height="4.2" fill="#ec7d70"/>
<line x1="333.21" x2="336.40" y1="522.00" y2="522.00" stroke="#222" stroke-width="0.5"/>
<line x1="333.21" x2="333.21" y1="520.75" y2="523.25" stroke="#111" stroke-width="0.75"/>
<line x1="336.40" x2="336.40" y1="520.75" y2="523.25" stroke="#111" stroke-width="0.75"/>
<text transform="translate(270.30,522.80) scale(1.42,1)" font-size="2.15" fill="#222" text-anchor="end" font-weight="normal" >FE8335 (n=80,005)</text>
<rect x="271.8" y="526.90" width="59.33" height="4.2" fill="#ec7d70"/>
<line x1="330.34" x2="332.09" y1="529.00" y2="529.00" stroke="#222" stroke-width="0.5"/>
<line x1="330.34" x2="330.34" y1="527.75" y2="530.25" stroke="#111" stroke-width="0.75"/>
<line x1="332.09" x2="332.09" y1="527.75" y2="530.25" stroke="#111" stroke-width="0.75"/>
<text transform="translate(270.30,529.80) scale(1.42,1)" font-size="2.15" fill="#222" text-anchor="end" font-weight="normal" >A02223 (n=600,275)</text>
<rect x="271.8" y="533.90" width="58.70" height="4.2" fill="#6ab1e3"/>
<line x1="314.87" x2="345.97" y1="536.00" y2="536.00" stroke="#222" stroke-width="0.5"/>
<line x1="314.87" x2="314.87" y1="534.75" y2="537.25" stroke="#111" stroke-width="0.75"/>
<line x1="345.97" x2="345.97" y1="534.75" y2="537.25" stroke="#111" stroke-width="0.75"/>
<text transform="translate(270.30,536.80) scale(1.42,1)" font-size="2.15" fill="#222" text-anchor="end" font-weight="normal" >9F5818 (n=1,410)</text>
<rect x="271.8" y="540.90" width="58.22" height="4.2" fill="#6ab1e3"/>
<line x1="312.47" x2="347.72" y1="543.00" y2="543.00" stroke="#222" stroke-width="0.5"/>
<line x1="312.47" x2="312.47" y1="541.75" y2="544.25" stroke="#111" stroke-width="0.75"/>
<line x1="347.72" x2="347.72" y1="541.75" y2="544.25" stroke="#111" stroke-width="0.75"/>
<text transform="translate(270.30,543.80) scale(1.42,1)" font-size="2.15" fill="#222" text-anchor="end" font-weight="normal" >T60045X (n=1,095)</text>
<rect x="271.8" y="547.90" width="56.62" height="4.2" fill="#ec7d70"/>
<line x1="326.51" x2="330.50" y1="550.00" y2="550.00" stroke="#222" stroke-width="0.5"/>
<line x1="326.51" x2="326.51" y1="548.75" y2="551.25" stroke="#111" stroke-width="0.75"/>
<line x1="330.50" x2="330.50" y1="548.75" y2="551.25" stroke="#111" stroke-width="0.75"/>
<text transform="translate(270.30,550.80) scale(1.42,1)" font-size="2.15" fill="#222" text-anchor="end" font-weight="normal" >9D0801 (n=92,650)</text>
<line x1="344.69" x2="344.69" y1="451.7" y2="556.0" stroke="#2c3e50" stroke-width="0.8" stroke-dasharray="1.4 0.9"/>
<rect x="271.8" y="451.7" width="218.39999999999998" height="104.30000000000001" fill="none" stroke="#dadada" stroke-width="0.6"/>
<text transform="translate(271.80,560.00) scale(1.42,1)" font-size="3.3" fill="#333" text-anchor="middle" font-weight="normal" >0</text>
<text transform="translate(303.70,560.00) scale(1.42,1)" font-size="3.3" fill="#333" text-anchor="middle" font-weight="normal" >2</text>
<text transform="translate(335.60,560.00) scale(1.42,1)" font-size="3.3" fill="#333" text-anchor="middle" font-weight="normal" >4</text>
<text transform="translate(367.50,560.00) scale(1.42,1)" font-size="3.3" fill="#333" text-anchor="middle" font-weight="normal" >6</text>
<text transform="translate(399.40,560.00) scale(1.42,1)" font-size="3.3" fill="#333" text-anchor="middle" font-weight="normal" >8</text>
<text transform="translate(431.30,560.00) scale(1.42,1)" font-size="3.3" fill="#333" text-anchor="middle" font-weight="normal" >10</text>
<text transform="translate(463.20,560.00) scale(1.42,1)" font-size="3.3" fill="#333" text-anchor="middle" font-weight="normal" >12</text>
<text transform="translate(381.4,446.7) scale(1.42,1)" font-size="3.5" fill="#222" text-anchor="middle" font-weight="bold" letter-spacing="0.12">(D) 大規模ロット（≥1,000接種）の死亡率と95%CI</text>
<text transform="translate(381.60,450.90) scale(1.42,1)" font-size="3.5" fill="#222" text-anchor="middle" font-weight="bold" >(赤: 全体平均と有意に異なる)</text>
<text transform="translate(381.00,563.80) scale(1.42,1)" font-size="3.3" fill="#444" text-anchor="middle" font-weight="normal" >死亡率 (%) + 95%CI</text>
<line x1="449" y1="552.8" x2="457" y2="552.8" stroke="#2c3e50" stroke-width="0.7" stroke-dasharray="1.6 0.9"/>
<text transform="translate(460.00,553.90) scale(1.42,1)" font-size="2.7" fill="#444" text-anchor="start" font-weight="normal" >全体平均 4.57%</text>
<text transform="translate(772.00,312.60) scale(0.62,1)" font-size="8.6" fill="#222" text-anchor="middle" font-weight="bold" >Figure 2: モンテカルロ・シミュレーション（10,000回）</text>
<text transform="translate(775.00,322.60) scale(0.62,1)" font-size="8.6" fill="#222" text-anchor="middle" font-weight="bold" >「全ロット同一の死亡率」を仮定した場合に観測されるばらつき</text>
<rect x="541.2" y="370.1" width="146.19999999999993" height="180.69999999999993" fill="#fff"/>
<line x1="546.60" x2="546.60" y1="370.1" y2="550.8" stroke="#e2e2e2" stroke-width="0.7"/>
<line x1="570.37" x2="570.37" y1="370.1" y2="550.8" stroke="#e2e2e2" stroke-width="0.7"/>
<line x1="594.14" x2="594.14" y1="370.1" y2="550.8" stroke="#e2e2e2" stroke-width="0.7"/>
<line x1="617.91" x2="617.91" y1="370.1" y2="550.8" stroke="#e2e2e2" stroke-width="0.7"/>
<line x1="641.68" x2="641.68" y1="370.1" y2="550.8" stroke="#e2e2e2" stroke-width="0.7"/>
<line x1="665.45" x2="665.45" y1="370.1" y2="550.8" stroke="#e2e2e2" stroke-width="0.7"/>
<line x1="541.2" x2="687.4" y1="550.80" y2="550.80" stroke="#e2e2e2" stroke-width="0.7"/>
<line x1="541.2" x2="687.4" y1="522.95" y2="522.95" stroke="#e2e2e2" stroke-width="0.7"/>
<line x1="541.2" x2="687.4" y1="495.10" y2="495.10" stroke="#e2e2e2" stroke-width="0.7"/>
<line x1="541.2" x2="687.4" y1="467.25" y2="467.25" stroke="#e2e2e2" stroke-width="0.7"/>
<line x1="541.2" x2="687.4" y1="439.40" y2="439.40" stroke="#e2e2e2" stroke-width="0.7"/>
<line x1="541.2" x2="687.4" y1="411.55" y2="411.55" stroke="#e2e2e2" stroke-width="0.7"/>
<line x1="541.2" x2="687.4" y1="383.70" y2="383.70" stroke="#e2e2e2" stroke-width="0.7"/>
<rect x="548.22" y="548.15" width="2.41" height="2.65" fill="#66b0e4"/>
<rect x="550.87" y="537.15" width="2.41" height="13.65" fill="#66b0e4"/>
<rect x="553.53" y="534.65" width="2.41" height="16.15" fill="#66b0e4"/>
<rect x="556.18" y="471.01" width="2.41" height="79.79" fill="#66b0e4"/>
<rect x="558.83" y="491.06" width="2.41" height="59.74" fill="#66b0e4"/>
<rect x="561.49" y="384.40" width="2.41" height="166.40" fill="#66b0e4"/>
<rect x="564.14" y="434.80" width="2.41" height="116.00" fill="#66b0e4"/>
<rect x="566.79" y="477.00" width="2.41" height="73.80" fill="#66b0e4"/>
<rect x="569.44" y="470.59" width="2.41" height="80.21" fill="#66b0e4"/>
<rect x="572.10" y="499.00" width="2.41" height="51.80" fill="#66b0e4"/>
<rect x="574.75" y="409.74" width="2.41" height="141.06" fill="#66b0e4"/>
<rect x="577.40" y="515.43" width="2.41" height="35.37" fill="#66b0e4"/>
<rect x="580.06" y="379.24" width="2.41" height="171.56" fill="#66b0e4"/>
<rect x="582.71" y="548.43" width="2.41" height="2.37" fill="#66b0e4"/>
<rect x="585.36" y="504.85" width="2.41" height="45.95" fill="#66b0e4"/>
<rect x="588.01" y="464.60" width="2.41" height="86.20" fill="#66b0e4"/>
<rect x="593.32" y="545.93" width="2.41" height="4.87" fill="#66b0e4"/>
<rect x="595.97" y="547.88" width="2.41" height="2.92" fill="#66b0e4"/>
<rect x="601.28" y="499.56" width="2.41" height="51.24" fill="#66b0e4"/>
<rect x="606.59" y="548.43" width="2.41" height="2.37" fill="#66b0e4"/>
<rect x="609.24" y="536.60" width="2.41" height="14.20" fill="#66b0e4"/>
<rect x="622.50" y="543.56" width="2.41" height="7.24" fill="#66b0e4"/>
<rect x="627.81" y="549.55" width="2.41" height="1.25" fill="#66b0e4"/>
<rect x="641.08" y="548.43" width="2.41" height="2.37" fill="#66b0e4"/>
<line x1="671.0" x2="671.0" y1="370.1" y2="550.8" stroke="#e74c3c" stroke-width="1.0" stroke-dasharray="4.3 1.8"/>
<rect x="541.2" y="370.1" width="146.19999999999993" height="180.69999999999993" fill="none" stroke="#d6d6d6" stroke-width="0.7"/>
<text transform="translate(546.60,558.60) scale(0.62,1)" font-size="7.1" fill="#444" text-anchor="middle" font-weight="normal" >10</text>
<text transform="translate(570.37,558.60) scale(0.62,1)" font-size="7.1" fill="#444" text-anchor="middle" font-weight="normal" >20</text>
<text transform="translate(594.14,558.60) scale(0.62,1)" font-size="7.1" fill="#444" text-anchor="middle" font-weight="normal" >30</text>
<text transform="translate(617.91,558.60) scale(0.62,1)" font-size="7.1" fill="#444" text-anchor="middle" font-weight="normal" >40</text>
<text transform="translate(641.68,558.60) scale(0.62,1)" font-size="7.1" fill="#444" text-anchor="middle" font-weight="normal" >50</text>
<text transform="translate(665.45,558.60) scale(0.62,1)" font-size="7.1" fill="#444" text-anchor="middle" font-weight="normal" >60</text>
<text transform="translate(539.20,553.30) scale(0.62,1)" font-size="7.0" fill="#444" text-anchor="end" font-weight="normal" >0.00</text>
<text transform="translate(539.20,525.45) scale(0.62,1)" font-size="7.0" fill="#444" text-anchor="end" font-weight="normal" >0.02</text>
<text transform="translate(539.20,497.60) scale(0.62,1)" font-size="7.0" fill="#444" text-anchor="end" font-weight="normal" >0.04</text>
<text transform="translate(539.20,469.75) scale(0.62,1)" font-size="7.0" fill="#444" text-anchor="end" font-weight="normal" >0.06</text>
<text transform="translate(539.20,441.90) scale(0.62,1)" font-size="7.0" fill="#444" text-anchor="end" font-weight="normal" >0.08</text>
<text transform="translate(539.20,414.05) scale(0.62,1)" font-size="7.0" fill="#444" text-anchor="end" font-weight="normal" >0.10</text>
<text transform="translate(539.20,386.20) scale(0.62,1)" font-size="7.0" fill="#444" text-anchor="end" font-weight="normal" >0.12</text>
<text transform="translate(614.30,357.20) scale(0.62,1)" font-size="8.0" fill="#222" text-anchor="middle" font-weight="bold" >最大死亡率の分布</text>
<text transform="translate(614.30,367.20) scale(0.62,1)" font-size="8.4" fill="#222" text-anchor="middle" font-weight="bold" >p = 0.0001</text>
<text transform="translate(614.30,567.30) scale(0.62,1)" font-size="7.4" fill="#444" text-anchor="middle" font-weight="normal" >最大死亡率 (%)</text>
<text transform="translate(528.40,460.95) scale(0.62,1) rotate(-90)" font-size="6.5" fill="#444" text-anchor="middle" font-weight="normal">頻度</text>
<line x1="597.5" x2="604.1" y1="378.3" y2="378.3" stroke="#e74c3c" stroke-width="1.0" stroke-dasharray="2.9 1.2"/>
<text transform="translate(608.10,380.60) scale(0.62,1)" font-size="6.2" fill="#555" text-anchor="start" font-weight="normal" >観測値 62.5%</text>
<rect x="707.9" y="370.1" width="146.80000000000007" height="180.69999999999993" fill="#fff"/>
<line x1="721.30" x2="721.30" y1="370.1" y2="550.8" stroke="#e2e2e2" stroke-width="0.7"/>
<line x1="741.62" x2="741.62" y1="370.1" y2="550.8" stroke="#e2e2e2" stroke-width="0.7"/>
<line x1="761.94" x2="761.94" y1="370.1" y2="550.8" stroke="#e2e2e2" stroke-width="0.7"/>
<line x1="782.26" x2="782.26" y1="370.1" y2="550.8" stroke="#e2e2e2" stroke-width="0.7"/>
<line x1="802.58" x2="802.58" y1="370.1" y2="550.8" stroke="#e2e2e2" stroke-width="0.7"/>
<line x1="822.90" x2="822.90" y1="370.1" y2="550.8" stroke="#e2e2e2" stroke-width="0.7"/>
<line x1="843.22" x2="843.22" y1="370.1" y2="550.8" stroke="#e2e2e2" stroke-width="0.7"/>
<line x1="707.9" x2="854.7" y1="550.80" y2="550.80" stroke="#e2e2e2" stroke-width="0.7"/>
<line x1="707.9" x2="854.7" y1="529.32" y2="529.32" stroke="#e2e2e2" stroke-width="0.7"/>
<line x1="707.9" x2="854.7" y1="507.84" y2="507.84" stroke="#e2e2e2" stroke-width="0.7"/>
<line x1="707.9" x2="854.7" y1="486.36" y2="486.36" stroke="#e2e2e2" stroke-width="0.7"/>
<line x1="707.9" x2="854.7" y1="464.88" y2="464.88" stroke="#e2e2e2" stroke-width="0.7"/>
<line x1="707.9" x2="854.7" y1="443.40" y2="443.40" stroke="#e2e2e2" stroke-width="0.7"/>
<line x1="707.9" x2="854.7" y1="421.92" y2="421.92" stroke="#e2e2e2" stroke-width="0.7"/>
<line x1="707.9" x2="854.7" y1="400.44" y2="400.44" stroke="#e2e2e2" stroke-width="0.7"/>
<line x1="707.9" x2="854.7" y1="378.96" y2="378.96" stroke="#e2e2e2" stroke-width="0.7"/>
<rect x="716.48" y="548.87" width="1.74" height="1.93" fill="#62c08a"/>
<rect x="718.38" y="545.64" width="1.74" height="5.16" fill="#62c08a"/>
<rect x="720.28" y="535.76" width="1.74" height="15.04" fill="#62c08a"/>
<rect x="722.18" y="524.38" width="1.74" height="26.42" fill="#62c08a"/>
<rect x="724.08" y="508.05" width="1.74" height="42.75" fill="#62c08a"/>
<rect x="725.98" y="480.35" width="1.74" height="70.45" fill="#62c08a"/>
<rect x="727.88" y="451.13" width="1.74" height="99.67" fill="#62c08a"/>
<rect x="729.78" y="420.20" width="1.74" height="130.60" fill="#62c08a"/>
<rect x="731.68" y="395.71" width="1.74" height="155.09" fill="#62c08a"/>
<rect x="733.58" y="384.33" width="1.74" height="166.47" fill="#62c08a"/>
<rect x="735.48" y="379.60" width="1.74" height="171.20" fill="#62c08a"/>
<rect x="737.38" y="378.96" width="1.74" height="171.84" fill="#62c08a"/>
<rect x="739.28" y="382.61" width="1.74" height="168.19" fill="#62c08a"/>
<rect x="741.18" y="388.20" width="1.74" height="162.60" fill="#62c08a"/>
<rect x="743.08" y="398.94" width="1.74" height="151.86" fill="#62c08a"/>
<rect x="744.98" y="408.60" width="1.74" height="142.20" fill="#62c08a"/>
<rect x="746.88" y="420.20" width="1.74" height="130.60" fill="#62c08a"/>
<rect x="748.78" y="444.47" width="1.74" height="106.33" fill="#62c08a"/>
<rect x="750.68" y="462.52" width="1.74" height="88.28" fill="#62c08a"/>
<rect x="752.58" y="475.62" width="1.74" height="75.18" fill="#62c08a"/>
<rect x="754.48" y="490.23" width="1.74" height="60.57" fill="#62c08a"/>
<rect x="756.38" y="499.25" width="1.74" height="51.55" fill="#62c08a"/>
<rect x="758.28" y="508.05" width="1.74" height="42.75" fill="#62c08a"/>
<rect x="760.18" y="518.58" width="1.74" height="32.22" fill="#62c08a"/>
<rect x="762.08" y="527.60" width="1.74" height="23.20" fill="#62c08a"/>
<rect x="763.98" y="532.54" width="1.74" height="18.26" fill="#62c08a"/>
<rect x="765.88" y="536.84" width="1.74" height="13.96" fill="#62c08a"/>
<rect x="767.78" y="540.70" width="1.74" height="10.10" fill="#62c08a"/>
<rect x="769.68" y="543.07" width="1.74" height="7.73" fill="#62c08a"/>
<rect x="771.58" y="544.36" width="1.74" height="6.44" fill="#62c08a"/>
<rect x="773.48" y="545.86" width="1.74" height="4.94" fill="#62c08a"/>
<rect x="775.38" y="548.22" width="1.74" height="2.58" fill="#62c08a"/>
<rect x="777.28" y="549.08" width="1.74" height="1.72" fill="#62c08a"/>
<rect x="779.18" y="548.65" width="1.74" height="2.15" fill="#62c08a"/>
<rect x="781.08" y="549.51" width="1.74" height="1.29" fill="#62c08a"/>
<rect x="782.98" y="549.94" width="1.74" height="0.86" fill="#62c08a"/>
<rect x="784.88" y="550.16" width="1.74" height="0.64" fill="#62c08a"/>
<rect x="786.78" y="550.37" width="1.74" height="0.43" fill="#62c08a"/>
<rect x="788.68" y="550.37" width="1.74" height="0.43" fill="#62c08a"/>
<line x1="847.7" x2="847.7" y1="370.1" y2="550.8" stroke="#e74c3c" stroke-width="1.0" stroke-dasharray="4.3 1.8"/>
<rect x="707.9" y="370.1" width="146.80000000000007" height="180.69999999999993" fill="none" stroke="#d6d6d6" stroke-width="0.7"/>
<text transform="translate(721.30,558.60) scale(0.62,1)" font-size="7.1" fill="#444" text-anchor="middle" font-weight="normal" >3</text>
<text transform="translate(741.62,558.60) scale(0.62,1)" font-size="7.1" fill="#444" text-anchor="middle" font-weight="normal" >4</text>
<text transform="translate(761.94,558.60) scale(0.62,1)" font-size="7.1" fill="#444" text-anchor="middle" font-weight="normal" >5</text>
<text transform="translate(782.26,558.60) scale(0.62,1)" font-size="7.1" fill="#444" text-anchor="middle" font-weight="normal" >6</text>
<text transform="translate(802.58,558.60) scale(0.62,1)" font-size="7.1" fill="#444" text-anchor="middle" font-weight="normal" >7</text>
<text transform="translate(822.90,558.60) scale(0.62,1)" font-size="7.1" fill="#444" text-anchor="middle" font-weight="normal" >8</text>
<text transform="translate(843.22,558.60) scale(0.62,1)" font-size="7.1" fill="#444" text-anchor="middle" font-weight="normal" >9</text>
<text transform="translate(705.90,553.30) scale(0.62,1)" font-size="7.0" fill="#444" text-anchor="end" font-weight="normal" >0.0</text>
<text transform="translate(705.90,531.82) scale(0.62,1)" font-size="7.0" fill="#444" text-anchor="end" font-weight="normal" >0.1</text>
<text transform="translate(705.90,510.34) scale(0.62,1)" font-size="7.0" fill="#444" text-anchor="end" font-weight="normal" >0.2</text>
<text transform="translate(705.90,488.86) scale(0.62,1)" font-size="7.0" fill="#444" text-anchor="end" font-weight="normal" >0.3</text>
<text transform="translate(705.90,467.38) scale(0.62,1)" font-size="7.0" fill="#444" text-anchor="end" font-weight="normal" >0.4</text>
<text transform="translate(705.90,445.90) scale(0.62,1)" font-size="7.0" fill="#444" text-anchor="end" font-weight="normal" >0.5</text>
<text transform="translate(705.90,424.42) scale(0.62,1)" font-size="7.0" fill="#444" text-anchor="end" font-weight="normal" >0.6</text>
<text transform="translate(705.90,402.94) scale(0.62,1)" font-size="7.0" fill="#444" text-anchor="end" font-weight="normal" >0.7</text>
<text transform="translate(705.90,381.46) scale(0.62,1)" font-size="7.0" fill="#444" text-anchor="end" font-weight="normal" >0.8</text>
<text transform="translate(781.30,357.20) scale(0.62,1)" font-size="8.0" fill="#222" text-anchor="middle" font-weight="bold" >標準偏差の分布</text>
<text transform="translate(781.30,367.20) scale(0.62,1)" font-size="8.4" fill="#222" text-anchor="middle" font-weight="bold" >p = 0.0000</text>
<text transform="translate(781.30,567.30) scale(0.62,1)" font-size="7.4" fill="#444" text-anchor="middle" font-weight="normal" >死亡率の標準偏差 (%)</text>
<text transform="translate(698.00,460.95) scale(0.62,1) rotate(-90)" font-size="6.5" fill="#444" text-anchor="middle" font-weight="normal">頻度</text>
<line x1="764.5" x2="771.1" y1="378.3" y2="378.3" stroke="#e74c3c" stroke-width="1.0" stroke-dasharray="2.9 1.2"/>
<text transform="translate(775.10,380.60) scale(0.62,1)" font-size="6.2" fill="#555" text-anchor="start" font-weight="normal" >観測値 9.23%</text>
<rect x="875.3" y="370.1" width="146.10000000000002" height="180.69999999999993" fill="#fff"/>
<line x1="880.50" x2="880.50" y1="370.1" y2="550.8" stroke="#e2e2e2" stroke-width="0.7"/>
<line x1="904.20" x2="904.20" y1="370.1" y2="550.8" stroke="#e2e2e2" stroke-width="0.7"/>
<line x1="927.90" x2="927.90" y1="370.1" y2="550.8" stroke="#e2e2e2" stroke-width="0.7"/>
<line x1="951.60" x2="951.60" y1="370.1" y2="550.8" stroke="#e2e2e2" stroke-width="0.7"/>
<line x1="975.30" x2="975.30" y1="370.1" y2="550.8" stroke="#e2e2e2" stroke-width="0.7"/>
<line x1="999.00" x2="999.00" y1="370.1" y2="550.8" stroke="#e2e2e2" stroke-width="0.7"/>
<line x1="875.3" x2="1021.4" y1="550.80" y2="550.80" stroke="#e2e2e2" stroke-width="0.7"/>
<line x1="875.3" x2="1021.4" y1="522.95" y2="522.95" stroke="#e2e2e2" stroke-width="0.7"/>
<line x1="875.3" x2="1021.4" y1="495.10" y2="495.10" stroke="#e2e2e2" stroke-width="0.7"/>
<line x1="875.3" x2="1021.4" y1="467.25" y2="467.25" stroke="#e2e2e2" stroke-width="0.7"/>
<line x1="875.3" x2="1021.4" y1="439.40" y2="439.40" stroke="#e2e2e2" stroke-width="0.7"/>
<line x1="875.3" x2="1021.4" y1="411.55" y2="411.55" stroke="#e2e2e2" stroke-width="0.7"/>
<line x1="875.3" x2="1021.4" y1="383.70" y2="383.70" stroke="#e2e2e2" stroke-width="0.7"/>
<rect x="882.42" y="548.15" width="2.4" height="2.65" fill="#b184c9"/>
<rect x="885.06" y="537.15" width="2.4" height="13.65" fill="#b184c9"/>
<rect x="887.71" y="534.65" width="2.4" height="16.15" fill="#b184c9"/>
<rect x="890.35" y="471.01" width="2.4" height="79.79" fill="#b184c9"/>
<rect x="893.00" y="491.06" width="2.4" height="59.74" fill="#b184c9"/>
<rect x="895.64" y="384.40" width="2.4" height="166.40" fill="#b184c9"/>
<rect x="898.29" y="434.80" width="2.4" height="116.00" fill="#b184c9"/>
<rect x="900.93" y="477.00" width="2.4" height="73.80" fill="#b184c9"/>
<rect x="903.58" y="470.59" width="2.4" height="80.21" fill="#b184c9"/>
<rect x="906.22" y="499.00" width="2.4" height="51.80" fill="#b184c9"/>
<rect x="908.87" y="409.74" width="2.4" height="141.06" fill="#b184c9"/>
<rect x="911.51" y="515.43" width="2.4" height="35.37" fill="#b184c9"/>
<rect x="914.16" y="379.24" width="2.4" height="171.56" fill="#b184c9"/>
<rect x="916.80" y="548.43" width="2.4" height="2.37" fill="#b184c9"/>
<rect x="919.45" y="504.85" width="2.4" height="45.95" fill="#b184c9"/>
<rect x="922.09" y="464.60" width="2.4" height="86.20" fill="#b184c9"/>
<rect x="927.38" y="545.93" width="2.4" height="4.87" fill="#b184c9"/>
<rect x="930.03" y="547.88" width="2.4" height="2.92" fill="#b184c9"/>
<rect x="935.32" y="499.56" width="2.4" height="51.24" fill="#b184c9"/>
<rect x="940.61" y="548.43" width="2.4" height="2.37" fill="#b184c9"/>
<rect x="943.25" y="536.60" width="2.4" height="14.20" fill="#b184c9"/>
<rect x="956.48" y="543.56" width="2.4" height="7.24" fill="#b184c9"/>
<rect x="961.77" y="549.55" width="2.4" height="1.25" fill="#b184c9"/>
<rect x="975.00" y="548.43" width="2.4" height="2.37" fill="#b184c9"/>
<line x1="996.4" x2="996.4" y1="370.1" y2="550.8" stroke="#e74c3c" stroke-width="1.0" stroke-dasharray="4.3 1.8"/>
<rect x="875.3" y="370.1" width="146.10000000000002" height="180.69999999999993" fill="none" stroke="#d6d6d6" stroke-width="0.7"/>
<text transform="translate(880.50,558.60) scale(0.62,1)" font-size="7.1" fill="#444" text-anchor="middle" font-weight="normal" >10</text>
<text transform="translate(904.20,558.60) scale(0.62,1)" font-size="7.1" fill="#444" text-anchor="middle" font-weight="normal" >20</text>
<text transform="translate(927.90,558.60) scale(0.62,1)" font-size="7.1" fill="#444" text-anchor="middle" font-weight="normal" >30</text>
<text transform="translate(951.60,558.60) scale(0.62,1)" font-size="7.1" fill="#444" text-anchor="middle" font-weight="normal" >40</text>
<text transform="translate(975.30,558.60) scale(0.62,1)" font-size="7.1" fill="#444" text-anchor="middle" font-weight="normal" >50</text>
<text transform="translate(999.00,558.60) scale(0.62,1)" font-size="7.1" fill="#444" text-anchor="middle" font-weight="normal" >60</text>
<text transform="translate(873.30,553.30) scale(0.62,1)" font-size="7.0" fill="#444" text-anchor="end" font-weight="normal" >0.00</text>
<text transform="translate(873.30,525.45) scale(0.62,1)" font-size="7.0" fill="#444" text-anchor="end" font-weight="normal" >0.02</text>
<text transform="translate(873.30,497.60) scale(0.62,1)" font-size="7.0" fill="#444" text-anchor="end" font-weight="normal" >0.04</text>
<text transform="translate(873.30,469.75) scale(0.62,1)" font-size="7.0" fill="#444" text-anchor="end" font-weight="normal" >0.06</text>
<text transform="translate(873.30,441.90) scale(0.62,1)" font-size="7.0" fill="#444" text-anchor="end" font-weight="normal" >0.08</text>
<text transform="translate(873.30,414.05) scale(0.62,1)" font-size="7.0" fill="#444" text-anchor="end" font-weight="normal" >0.10</text>
<text transform="translate(873.30,386.20) scale(0.62,1)" font-size="7.0" fill="#444" text-anchor="end" font-weight="normal" >0.12</text>
<text transform="translate(948.35,357.20) scale(0.62,1)" font-size="8.0" fill="#222" text-anchor="middle" font-weight="bold" >レンジの分布</text>
<text transform="translate(948.35,367.20) scale(0.62,1)" font-size="8.4" fill="#222" text-anchor="middle" font-weight="bold" >p = 0.0001</text>
<text transform="translate(948.35,567.30) scale(0.62,1)" font-size="7.4" fill="#444" text-anchor="middle" font-weight="normal" >死亡率のレンジ (%)</text>
<text transform="translate(862.50,460.95) scale(0.62,1) rotate(-90)" font-size="6.5" fill="#444" text-anchor="middle" font-weight="normal">頻度</text>
<line x1="930.8" x2="937.4" y1="378.3" y2="378.3" stroke="#e74c3c" stroke-width="1.0" stroke-dasharray="2.9 1.2"/>
<text transform="translate(941.40,380.60) scale(0.62,1)" font-size="6.2" fill="#555" text-anchor="start" font-weight="normal" >観測値 59.0%</text>
</svg>
</body></html>
